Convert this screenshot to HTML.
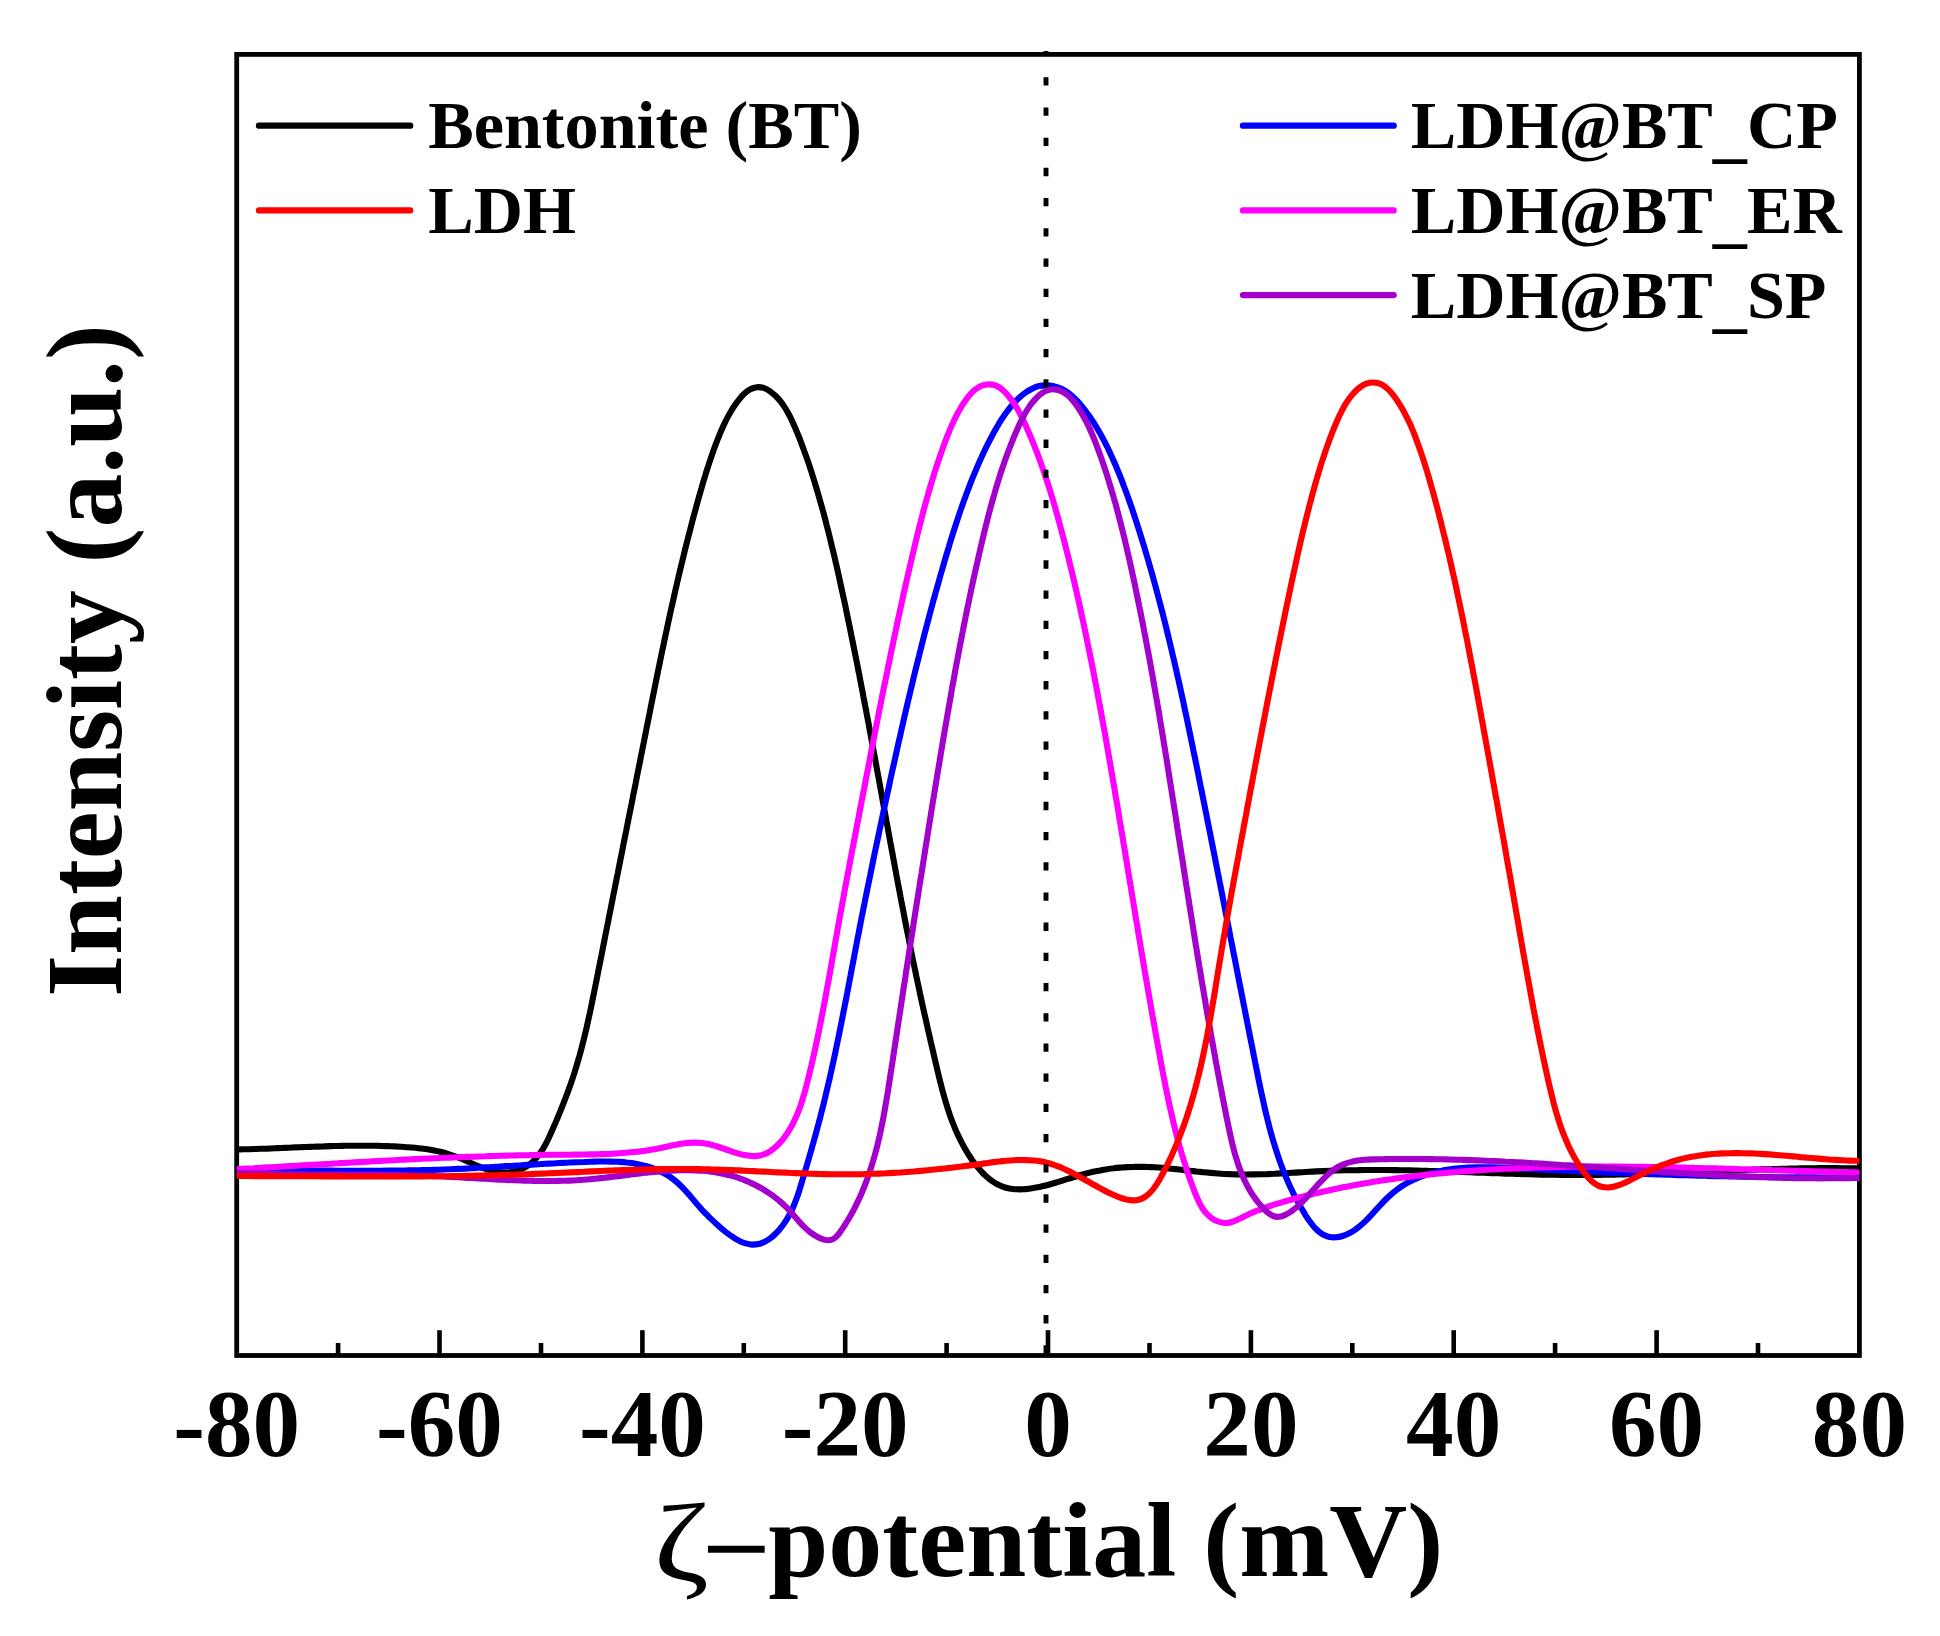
<!DOCTYPE html>
<html><head><meta charset="utf-8"><title>Zeta potential</title>
<style>
html,body{margin:0;padding:0;background:#fff;}
body{width:1940px;height:1636px;overflow:hidden;}
svg{display:block;font-family:"Liberation Serif","Times New Roman",serif;font-weight:bold;fill:#000;}
.tick{font-size:95.2px;text-anchor:middle;}
.leg text{font-size:68.2px;}
.leg line{stroke-width:6.3;stroke-linecap:round;}
.axt{font-size:107.2px;}
.curves path{fill:none;stroke-width:6.1;stroke-linejoin:round;stroke-linecap:butt;}
.ticks line{stroke:#000;stroke-width:4.6;}
</style></head><body>
<svg width="1940" height="1636" viewBox="0 0 1940 1636">
<rect x="0" y="0" width="1940" height="1636" fill="#fff"/>
<defs><clipPath id="pc"><rect x="236.7" y="54.4" width="1622.7" height="1301.1"/></clipPath><clipPath id="dc"><rect x="1040" y="51" width="12" height="1304.5"/></clipPath></defs>
<rect x="236.7" y="54.4" width="1622.7" height="1301.1" fill="none" stroke="#000" stroke-width="4.8"/>
<g class="ticks">
<line x1="338.1" y1="1355.5" x2="338.1" y2="1343.0"/>
<line x1="439.5" y1="1355.5" x2="439.5" y2="1330.2"/>
<line x1="541.0" y1="1355.5" x2="541.0" y2="1343.0"/>
<line x1="642.4" y1="1355.5" x2="642.4" y2="1330.2"/>
<line x1="743.8" y1="1355.5" x2="743.8" y2="1343.0"/>
<line x1="845.2" y1="1355.5" x2="845.2" y2="1330.2"/>
<line x1="946.6" y1="1355.5" x2="946.6" y2="1343.0"/>
<line x1="1048.0" y1="1355.5" x2="1048.0" y2="1330.2"/>
<line x1="1149.5" y1="1355.5" x2="1149.5" y2="1343.0"/>
<line x1="1250.9" y1="1355.5" x2="1250.9" y2="1330.2"/>
<line x1="1352.3" y1="1355.5" x2="1352.3" y2="1343.0"/>
<line x1="1453.7" y1="1355.5" x2="1453.7" y2="1330.2"/>
<line x1="1555.1" y1="1355.5" x2="1555.1" y2="1343.0"/>
<line x1="1656.6" y1="1355.5" x2="1656.6" y2="1330.2"/>
<line x1="1758.0" y1="1355.5" x2="1758.0" y2="1343.0"/>
</g>
<g class="curves" clip-path="url(#pc)">
<path d="M232.7 1149.5C235.0 1149.5 237.3 1149.4 239.7 1149.4C242.0 1149.3 244.3 1149.3 246.6 1149.2C248.9 1149.2 251.3 1149.1 253.6 1149.0C255.9 1149.0 258.2 1148.9 260.6 1148.8C262.9 1148.7 265.2 1148.6 267.6 1148.6C269.9 1148.5 272.3 1148.4 274.6 1148.3C276.9 1148.2 279.3 1148.1 281.6 1148.0C284.0 1147.9 286.3 1147.8 288.7 1147.7C291.0 1147.6 293.4 1147.5 295.7 1147.4C298.1 1147.3 300.4 1147.2 302.8 1147.1C305.1 1147.0 307.5 1147.0 309.8 1146.9C312.2 1146.8 314.5 1146.7 316.9 1146.6C319.2 1146.5 321.6 1146.4 323.9 1146.4C326.3 1146.3 328.7 1146.2 331.0 1146.1C333.4 1146.1 335.7 1146.0 338.1 1146.0C340.4 1145.9 342.8 1145.9 345.1 1145.8C347.5 1145.8 349.8 1145.7 352.2 1145.7C354.5 1145.7 356.9 1145.7 359.2 1145.7C361.6 1145.7 363.9 1145.7 366.2 1145.7C368.6 1145.7 370.9 1145.7 373.3 1145.7C375.6 1145.8 377.9 1145.8 380.3 1145.9C382.6 1145.9 384.9 1146.0 387.3 1146.1C389.6 1146.2 391.9 1146.3 394.2 1146.4C396.6 1146.5 398.9 1146.6 401.2 1146.7C403.5 1146.9 405.8 1147.0 408.1 1147.2C410.4 1147.4 412.8 1147.6 415.1 1147.8C417.4 1148.0 419.7 1148.3 421.9 1148.5C424.2 1148.8 426.5 1149.2 428.8 1149.5C431.1 1149.9 433.4 1150.3 435.6 1150.8C437.9 1151.2 440.2 1151.8 442.5 1152.3C444.7 1152.9 447.0 1153.6 449.2 1154.3C451.5 1155.0 453.7 1155.8 455.9 1156.6C458.2 1157.5 460.4 1158.4 462.6 1159.3C464.9 1160.3 467.1 1161.3 469.3 1162.3C471.5 1163.2 473.8 1164.2 476.0 1165.2C478.2 1166.1 480.4 1167.0 482.6 1167.9C484.8 1168.7 487.1 1169.5 489.3 1170.1C491.5 1170.8 493.7 1171.4 496.0 1171.8C498.2 1172.2 500.5 1172.5 502.7 1172.6C505.0 1172.7 507.2 1172.6 509.5 1172.4C511.7 1172.1 514.0 1171.6 516.2 1171.0C518.4 1170.3 520.6 1169.5 522.7 1168.5C524.8 1167.5 526.8 1166.3 528.7 1165.0C530.6 1163.7 532.3 1162.2 533.9 1160.6C535.5 1159.0 537.1 1157.3 538.5 1155.5C539.9 1153.6 541.2 1151.7 542.5 1149.7C543.7 1147.7 544.9 1145.6 546.0 1143.5C547.1 1141.4 548.2 1139.2 549.2 1137.0C550.3 1134.8 551.2 1132.6 552.2 1130.3C553.2 1128.1 554.1 1125.9 555.1 1123.7C556.0 1121.5 557.0 1119.3 557.9 1117.1C558.8 1114.9 559.7 1112.7 560.6 1110.5C561.5 1108.3 562.4 1106.2 563.2 1104.0C564.1 1101.8 564.9 1099.6 565.8 1097.4C566.6 1095.3 567.4 1093.1 568.2 1090.9C569.0 1088.7 569.8 1086.5 570.6 1084.4C571.3 1082.2 572.1 1080.0 572.8 1077.8C573.5 1075.6 574.3 1073.4 574.9 1071.2C575.6 1069.0 576.3 1066.8 577.0 1064.5C577.6 1062.3 578.3 1060.1 578.9 1057.9C579.6 1055.6 580.2 1053.4 580.8 1051.1C581.4 1048.9 582.0 1046.7 582.5 1044.4C583.1 1042.2 583.7 1039.9 584.2 1037.6C584.8 1035.4 585.3 1033.1 585.9 1030.8C586.4 1028.6 586.9 1026.3 587.4 1024.0C587.9 1021.8 588.4 1019.5 588.9 1017.2C589.4 1014.9 589.9 1012.6 590.4 1010.3C590.9 1008.1 591.4 1005.8 591.8 1003.5C592.3 1001.2 592.8 998.9 593.2 996.6C593.7 994.3 594.2 992.0 594.6 989.7C595.1 987.4 595.5 985.1 596.0 982.8C596.5 980.5 596.9 978.2 597.4 975.9C597.8 973.6 598.3 971.4 598.7 969.1C599.2 966.8 599.6 964.5 600.1 962.2C600.5 959.9 601.0 957.6 601.5 955.3C601.9 953.0 602.4 950.7 602.8 948.4C603.3 946.1 603.7 943.8 604.2 941.5C604.6 939.2 605.1 936.9 605.5 934.6C606.0 932.3 606.5 930.0 606.9 927.7C607.4 925.4 607.8 923.1 608.3 920.8C608.7 918.5 609.2 916.2 609.6 914.0C610.1 911.7 610.6 909.4 611.0 907.1C611.5 904.8 611.9 902.5 612.4 900.2C612.8 897.9 613.3 895.6 613.7 893.3C614.2 891.0 614.7 888.7 615.1 886.4C615.6 884.1 616.0 881.8 616.5 879.5C616.9 877.2 617.4 874.9 617.9 872.6C618.3 870.3 618.8 868.0 619.2 865.8C619.7 863.5 620.1 861.2 620.6 858.9C621.1 856.6 621.5 854.3 622.0 852.0C622.4 849.7 622.9 847.4 623.3 845.1C623.8 842.8 624.2 840.5 624.7 838.2C625.2 835.9 625.6 833.6 626.1 831.3C626.5 829.0 627.0 826.7 627.4 824.4C627.9 822.1 628.4 819.9 628.8 817.6C629.3 815.3 629.7 813.0 630.2 810.7C630.6 808.4 631.1 806.1 631.6 803.8C632.0 801.5 632.5 799.2 632.9 796.9C633.4 794.6 633.8 792.3 634.3 790.0C634.8 787.7 635.2 785.4 635.7 783.1C636.1 780.8 636.6 778.5 637.0 776.2C637.5 774.0 637.9 771.7 638.4 769.4C638.9 767.1 639.3 764.8 639.8 762.5C640.2 760.2 640.7 757.9 641.1 755.6C641.6 753.3 642.1 751.0 642.5 748.7C643.0 746.4 643.4 744.1 643.9 741.8C644.3 739.5 644.8 737.2 645.3 734.9C645.7 732.6 646.2 730.3 646.6 728.0C647.1 725.7 647.5 723.5 648.0 721.2C648.4 718.9 648.9 716.6 649.4 714.3C649.8 712.0 650.3 709.7 650.7 707.4C651.2 705.1 651.7 702.8 652.1 700.5C652.6 698.2 653.0 695.9 653.5 693.6C654.0 691.3 654.4 689.0 654.9 686.7C655.3 684.4 655.8 682.1 656.3 679.9C656.7 677.6 657.2 675.3 657.7 673.0C658.1 670.7 658.6 668.4 659.1 666.1C659.6 663.8 660.0 661.5 660.5 659.2C661.0 656.9 661.4 654.6 661.9 652.3C662.4 650.1 662.9 647.8 663.4 645.5C663.8 643.2 664.3 640.9 664.8 638.6C665.3 636.3 665.8 634.0 666.3 631.7C666.8 629.4 667.3 627.2 667.7 624.9C668.2 622.6 668.7 620.3 669.2 618.0C669.7 615.7 670.2 613.4 670.7 611.2C671.2 608.9 671.7 606.6 672.3 604.3C672.8 602.0 673.3 599.7 673.8 597.5C674.3 595.2 674.8 592.9 675.3 590.6C675.9 588.3 676.4 586.0 676.9 583.8C677.4 581.5 678.0 579.2 678.5 576.9C679.0 574.6 679.6 572.4 680.1 570.1C680.7 567.8 681.2 565.5 681.8 563.3C682.3 561.0 682.8 558.7 683.4 556.4C684.0 554.2 684.5 551.9 685.1 549.6C685.6 547.4 686.2 545.1 686.8 542.8C687.4 540.5 687.9 538.3 688.5 536.0C689.1 533.7 689.7 531.5 690.3 529.2C690.9 526.9 691.4 524.7 692.0 522.4C692.6 520.2 693.2 517.9 693.8 515.6C694.5 513.4 695.1 511.1 695.7 508.9C696.3 506.6 696.9 504.3 697.5 502.1C698.2 499.8 698.8 497.6 699.4 495.3C700.1 493.1 700.7 490.8 701.4 488.6C702.0 486.3 702.7 484.1 703.3 481.8C704.0 479.6 704.7 477.3 705.4 475.1C706.0 472.8 706.7 470.6 707.5 468.4C708.2 466.2 708.9 463.9 709.6 461.7C710.4 459.5 711.1 457.3 711.9 455.1C712.6 452.9 713.4 450.7 714.2 448.5C715.0 446.3 715.8 444.1 716.7 441.9C717.5 439.7 718.4 437.6 719.3 435.4C720.1 433.2 721.1 431.1 722.0 429.0C722.9 426.8 723.9 424.7 724.9 422.6C725.9 420.5 727.0 418.4 728.1 416.4C729.2 414.3 730.4 412.3 731.6 410.3C732.8 408.3 734.1 406.3 735.5 404.3C736.8 402.4 738.3 400.5 739.8 398.6C741.3 396.8 742.9 395.0 744.7 393.3C746.4 391.7 748.3 390.3 750.3 389.3C752.4 388.2 754.6 387.5 756.9 387.2C759.1 386.9 761.3 387.2 763.5 387.9C765.6 388.6 767.7 389.7 769.6 391.0C771.6 392.3 773.4 393.9 775.2 395.5C776.9 397.2 778.5 398.9 780.0 400.7C781.4 402.5 782.8 404.4 784.1 406.4C785.4 408.3 786.6 410.3 787.7 412.4C788.9 414.4 790.0 416.5 791.0 418.6C792.0 420.7 793.0 422.9 793.9 425.0C794.9 427.2 795.8 429.3 796.7 431.5C797.6 433.7 798.5 435.8 799.4 438.0C800.2 440.2 801.1 442.4 801.9 444.6C802.7 446.8 803.6 449.0 804.3 451.2C805.1 453.4 805.9 455.6 806.7 457.8C807.5 460.0 808.2 462.2 809.0 464.4C809.7 466.6 810.4 468.9 811.2 471.1C811.9 473.3 812.6 475.5 813.3 477.8C814.0 480.0 814.6 482.2 815.3 484.5C816.0 486.7 816.7 488.9 817.3 491.2C818.0 493.4 818.6 495.7 819.3 497.9C819.9 500.2 820.6 502.4 821.2 504.7C821.8 506.9 822.4 509.2 823.1 511.4C823.7 513.7 824.3 515.9 824.9 518.2C825.5 520.5 826.1 522.7 826.6 525.0C827.2 527.3 827.8 529.5 828.4 531.8C829.0 534.1 829.5 536.3 830.1 538.6C830.6 540.9 831.2 543.1 831.7 545.4C832.3 547.7 832.8 550.0 833.4 552.2C833.9 554.5 834.5 556.8 835.0 559.1C835.5 561.4 836.0 563.6 836.6 565.9C837.1 568.2 837.6 570.5 838.1 572.8C838.6 575.1 839.1 577.3 839.6 579.6C840.1 581.9 840.6 584.2 841.1 586.5C841.6 588.8 842.1 591.1 842.6 593.4C843.1 595.6 843.6 597.9 844.1 600.2C844.6 602.5 845.1 604.8 845.6 607.1C846.0 609.4 846.5 611.7 847.0 614.0C847.5 616.3 847.9 618.6 848.4 620.9C848.9 623.1 849.4 625.4 849.8 627.7C850.3 630.0 850.8 632.3 851.2 634.6C851.7 636.9 852.2 639.2 852.6 641.5C853.1 643.8 853.6 646.1 854.0 648.4C854.5 650.7 854.9 653.0 855.4 655.3C855.8 657.6 856.3 659.9 856.8 662.1C857.2 664.4 857.7 666.7 858.1 669.0C858.6 671.3 859.0 673.6 859.5 675.9C859.9 678.2 860.3 680.5 860.8 682.8C861.2 685.1 861.7 687.4 862.1 689.7C862.6 692.0 863.0 694.3 863.4 696.6C863.9 698.9 864.3 701.2 864.7 703.5C865.2 705.8 865.6 708.1 866.1 710.4C866.5 712.7 866.9 715.0 867.4 717.3C867.8 719.6 868.2 721.9 868.7 724.2C869.1 726.5 869.5 728.8 869.9 731.1C870.4 733.4 870.8 735.7 871.2 738.0C871.7 740.3 872.1 742.6 872.5 744.9C872.9 747.2 873.4 749.5 873.8 751.8C874.2 754.1 874.6 756.4 875.1 758.7C875.5 761.0 875.9 763.3 876.3 765.6C876.7 767.9 877.2 770.2 877.6 772.5C878.0 774.8 878.4 777.1 878.9 779.4C879.3 781.7 879.7 784.0 880.1 786.3C880.5 788.6 881.0 790.9 881.4 793.2C881.8 795.5 882.2 797.8 882.6 800.1C883.1 802.4 883.5 804.7 883.9 807.0C884.3 809.3 884.7 811.6 885.2 813.9C885.6 816.2 886.0 818.5 886.4 820.8C886.9 823.2 887.3 825.5 887.7 827.8C888.1 830.1 888.5 832.4 889.0 834.7C889.4 837.0 889.8 839.3 890.2 841.6C890.7 843.9 891.1 846.2 891.5 848.5C891.9 850.8 892.4 853.1 892.8 855.4C893.2 857.7 893.6 860.0 894.1 862.3C894.5 864.6 894.9 866.9 895.3 869.2C895.8 871.5 896.2 873.8 896.6 876.1C897.1 878.4 897.5 880.7 897.9 883.0C898.3 885.3 898.8 887.6 899.2 889.9C899.7 892.2 900.1 894.5 900.5 896.8C901.0 899.1 901.4 901.4 901.8 903.7C902.3 906.0 902.7 908.3 903.2 910.6C903.6 912.9 904.0 915.2 904.5 917.5C904.9 919.8 905.4 922.1 905.8 924.4C906.3 926.7 906.7 929.0 907.2 931.3C907.6 933.6 908.1 935.8 908.6 938.1C909.0 940.4 909.5 942.7 909.9 945.0C910.4 947.3 910.9 949.6 911.3 951.9C911.8 954.2 912.3 956.5 912.7 958.8C913.2 961.1 913.7 963.4 914.1 965.7C914.6 968.0 915.1 970.2 915.6 972.5C916.0 974.8 916.5 977.1 917.0 979.4C917.5 981.7 918.0 984.0 918.5 986.3C919.0 988.6 919.5 990.8 919.9 993.1C920.4 995.4 920.9 997.7 921.4 1000.0C921.9 1002.3 922.4 1004.6 922.9 1006.8C923.4 1009.1 923.9 1011.4 924.4 1013.7C924.9 1016.0 925.5 1018.3 926.0 1020.5C926.5 1022.8 927.0 1025.1 927.5 1027.4C928.0 1029.7 928.5 1031.9 929.1 1034.2C929.6 1036.5 930.1 1038.8 930.6 1041.1C931.1 1043.3 931.7 1045.6 932.2 1047.9C932.7 1050.2 933.3 1052.5 933.8 1054.7C934.3 1057.0 934.8 1059.3 935.4 1061.6C935.9 1063.8 936.5 1066.1 937.0 1068.4C937.5 1070.7 938.1 1072.9 938.6 1075.2C939.2 1077.5 939.7 1079.8 940.3 1082.0C940.9 1084.3 941.4 1086.6 942.0 1088.8C942.6 1091.1 943.2 1093.3 943.9 1095.6C944.5 1097.8 945.1 1100.1 945.8 1102.3C946.5 1104.6 947.2 1106.8 947.9 1109.0C948.6 1111.2 949.4 1113.5 950.1 1115.7C950.9 1117.9 951.7 1120.1 952.6 1122.3C953.4 1124.5 954.3 1126.6 955.2 1128.8C956.1 1131.0 957.1 1133.1 958.1 1135.3C959.1 1137.4 960.1 1139.6 961.2 1141.7C962.3 1143.8 963.4 1145.9 964.6 1148.0C965.8 1150.1 967.1 1152.2 968.4 1154.3C969.7 1156.3 971.0 1158.4 972.4 1160.4C973.8 1162.4 975.3 1164.3 976.8 1166.2C978.3 1168.1 979.8 1169.9 981.5 1171.6C983.1 1173.4 984.7 1175.0 986.4 1176.5C988.2 1178.1 989.9 1179.5 991.7 1180.8C993.5 1182.1 995.4 1183.2 997.3 1184.3C999.2 1185.3 1001.2 1186.1 1003.2 1186.8C1005.2 1187.5 1007.2 1188.0 1009.3 1188.4C1011.4 1188.8 1013.6 1189.1 1015.7 1189.2C1017.9 1189.3 1020.1 1189.4 1022.3 1189.3C1024.5 1189.2 1026.8 1189.0 1029.1 1188.7C1031.4 1188.4 1033.7 1188.0 1036.0 1187.6C1038.4 1187.2 1040.7 1186.6 1043.1 1186.1C1045.4 1185.5 1047.8 1184.9 1050.2 1184.2C1052.6 1183.5 1055.0 1182.9 1057.4 1182.1C1059.8 1181.4 1062.2 1180.7 1064.6 1179.9C1067.0 1179.2 1069.4 1178.4 1071.9 1177.7C1074.3 1176.9 1076.7 1176.2 1079.0 1175.5C1081.4 1174.8 1083.8 1174.2 1086.2 1173.5C1088.5 1172.9 1090.9 1172.4 1093.2 1171.8C1095.5 1171.3 1097.8 1170.8 1100.1 1170.4C1102.4 1169.9 1104.7 1169.5 1107.0 1169.2C1109.3 1168.8 1111.6 1168.5 1113.8 1168.3C1116.1 1168.0 1118.4 1167.8 1120.6 1167.6C1122.9 1167.4 1125.1 1167.2 1127.4 1167.1C1129.7 1167.0 1131.9 1166.9 1134.2 1166.9C1136.4 1166.8 1138.7 1166.8 1141.0 1166.8C1143.2 1166.9 1145.5 1166.9 1147.8 1167.0C1150.1 1167.1 1152.4 1167.2 1154.7 1167.3C1157.0 1167.5 1159.3 1167.7 1161.6 1167.8C1163.9 1168.0 1166.2 1168.2 1168.6 1168.4C1170.9 1168.7 1173.2 1168.9 1175.6 1169.1C1177.9 1169.4 1180.3 1169.6 1182.6 1169.9C1184.9 1170.2 1187.3 1170.4 1189.7 1170.7C1192.0 1171.0 1194.4 1171.2 1196.7 1171.5C1199.1 1171.7 1201.4 1172.0 1203.8 1172.2C1206.2 1172.5 1208.5 1172.7 1210.9 1172.9C1213.2 1173.1 1215.6 1173.3 1218.0 1173.5C1220.3 1173.7 1222.7 1173.8 1225.0 1174.0C1227.4 1174.1 1229.7 1174.2 1232.1 1174.3C1234.4 1174.4 1236.8 1174.4 1239.1 1174.5C1241.5 1174.5 1243.8 1174.5 1246.2 1174.5C1248.5 1174.5 1250.8 1174.5 1253.2 1174.4C1255.5 1174.4 1257.9 1174.4 1260.2 1174.3C1262.5 1174.2 1264.9 1174.1 1267.2 1174.1C1269.6 1174.0 1271.9 1173.9 1274.2 1173.8C1276.6 1173.6 1278.9 1173.5 1281.2 1173.4C1283.5 1173.3 1285.9 1173.2 1288.2 1173.0C1290.5 1172.9 1292.9 1172.7 1295.2 1172.6C1297.5 1172.5 1299.9 1172.3 1302.2 1172.2C1304.5 1172.1 1306.8 1171.9 1309.2 1171.8C1311.5 1171.7 1313.8 1171.5 1316.2 1171.4C1318.5 1171.3 1320.8 1171.2 1323.2 1171.1C1325.5 1171.0 1327.8 1170.9 1330.1 1170.8C1332.5 1170.7 1334.8 1170.6 1337.1 1170.5C1339.5 1170.4 1341.8 1170.4 1344.1 1170.3C1346.5 1170.3 1348.8 1170.2 1351.1 1170.2C1353.5 1170.1 1355.8 1170.1 1358.1 1170.1C1360.5 1170.0 1362.8 1170.0 1365.1 1170.0C1367.5 1170.0 1369.8 1170.0 1372.1 1170.0C1374.5 1170.0 1376.8 1170.0 1379.2 1170.0C1381.5 1170.0 1383.8 1170.0 1386.2 1170.0C1388.5 1170.1 1390.8 1170.1 1393.2 1170.1C1395.5 1170.1 1397.8 1170.2 1400.2 1170.2C1402.5 1170.3 1404.9 1170.3 1407.2 1170.3C1409.5 1170.4 1411.9 1170.4 1414.2 1170.5C1416.5 1170.6 1418.9 1170.6 1421.2 1170.7C1423.6 1170.7 1425.9 1170.8 1428.2 1170.9C1430.6 1170.9 1432.9 1171.0 1435.3 1171.1C1437.6 1171.2 1439.9 1171.2 1442.3 1171.3C1444.6 1171.4 1447.0 1171.5 1449.3 1171.5C1451.6 1171.6 1454.0 1171.7 1456.3 1171.8C1458.7 1171.9 1461.0 1172.0 1463.3 1172.0C1465.7 1172.1 1468.0 1172.2 1470.4 1172.3C1472.7 1172.4 1475.0 1172.5 1477.4 1172.6C1479.7 1172.6 1482.1 1172.7 1484.4 1172.8C1486.8 1172.9 1489.1 1173.0 1491.4 1173.1C1493.8 1173.2 1496.1 1173.2 1498.5 1173.3C1500.8 1173.4 1503.1 1173.5 1505.5 1173.6C1507.8 1173.6 1510.2 1173.7 1512.5 1173.8C1514.8 1173.9 1517.2 1173.9 1519.5 1174.0C1521.9 1174.1 1524.2 1174.1 1526.6 1174.2C1528.9 1174.3 1531.2 1174.3 1533.6 1174.4C1535.9 1174.5 1538.3 1174.5 1540.6 1174.6C1542.9 1174.6 1545.3 1174.7 1547.6 1174.7C1550.0 1174.7 1552.3 1174.8 1554.6 1174.8C1557.0 1174.9 1559.3 1174.9 1561.7 1174.9C1564.0 1174.9 1566.3 1175.0 1568.7 1175.0C1571.0 1175.0 1573.4 1175.0 1575.7 1175.0C1578.0 1175.0 1580.4 1175.0 1582.7 1175.0C1585.1 1175.0 1587.4 1175.0 1589.7 1175.0C1592.1 1174.9 1594.4 1174.9 1596.8 1174.9C1599.1 1174.9 1601.4 1174.8 1603.8 1174.8C1606.1 1174.8 1608.5 1174.7 1610.8 1174.7C1613.1 1174.6 1615.5 1174.6 1617.8 1174.5C1620.1 1174.5 1622.5 1174.4 1624.8 1174.4C1627.2 1174.3 1629.5 1174.3 1631.8 1174.2C1634.2 1174.1 1636.5 1174.1 1638.9 1174.0C1641.2 1173.9 1643.5 1173.9 1645.9 1173.8C1648.2 1173.7 1650.5 1173.6 1652.9 1173.5C1655.2 1173.5 1657.6 1173.4 1659.9 1173.3C1662.2 1173.2 1664.6 1173.1 1666.9 1173.1C1669.2 1173.0 1671.6 1172.9 1673.9 1172.8C1676.3 1172.7 1678.6 1172.6 1680.9 1172.5C1683.3 1172.4 1685.6 1172.3 1687.9 1172.2C1690.3 1172.1 1692.6 1172.0 1695.0 1172.0C1697.3 1171.9 1699.6 1171.8 1702.0 1171.7C1704.3 1171.6 1706.7 1171.5 1709.0 1171.4C1711.3 1171.3 1713.7 1171.2 1716.0 1171.1C1718.3 1171.0 1720.7 1170.9 1723.0 1170.8C1725.4 1170.7 1727.7 1170.6 1730.0 1170.5C1732.4 1170.5 1734.7 1170.4 1737.0 1170.3C1739.4 1170.2 1741.7 1170.1 1744.1 1170.0C1746.4 1169.9 1748.7 1169.8 1751.1 1169.8C1753.4 1169.7 1755.8 1169.6 1758.1 1169.5C1760.4 1169.4 1762.8 1169.4 1765.1 1169.3C1767.4 1169.2 1769.8 1169.1 1772.1 1169.1C1774.5 1169.0 1776.8 1168.9 1779.1 1168.9C1781.5 1168.8 1783.8 1168.8 1786.2 1168.7C1788.5 1168.6 1790.8 1168.6 1793.2 1168.5C1795.5 1168.5 1797.9 1168.4 1800.2 1168.4C1802.5 1168.4 1804.9 1168.3 1807.2 1168.3C1809.6 1168.3 1811.9 1168.2 1814.2 1168.2C1816.6 1168.2 1818.9 1168.2 1821.3 1168.1C1823.6 1168.1 1825.9 1168.1 1828.3 1168.1C1830.6 1168.1 1833.0 1168.1 1835.3 1168.1C1837.6 1168.1 1840.0 1168.1 1842.3 1168.2C1844.7 1168.2 1847.0 1168.2 1849.4 1168.2C1851.7 1168.2 1854.0 1168.3 1856.4 1168.3C1858.7 1168.4 1861.1 1168.4 1863.4 1168.5" stroke="#000000"/>
<path d="M232.7 1171.7C235.1 1171.6 237.4 1171.5 239.7 1171.5C242.0 1171.4 244.4 1171.3 246.7 1171.3C249.0 1171.2 251.4 1171.2 253.7 1171.1C256.0 1171.1 258.4 1171.0 260.7 1171.0C263.0 1170.9 265.4 1170.9 267.7 1170.9C270.1 1170.8 272.4 1170.8 274.7 1170.8C277.1 1170.7 279.4 1170.7 281.8 1170.7C284.1 1170.7 286.5 1170.7 288.8 1170.7C291.2 1170.7 293.5 1170.6 295.8 1170.6C298.2 1170.6 300.5 1170.6 302.9 1170.6C305.2 1170.6 307.6 1170.6 309.9 1170.6C312.3 1170.6 314.6 1170.6 317.0 1170.6C319.3 1170.6 321.7 1170.6 324.0 1170.6C326.4 1170.6 328.7 1170.6 331.1 1170.6C333.5 1170.7 335.8 1170.7 338.2 1170.7C340.5 1170.7 342.9 1170.7 345.2 1170.7C347.6 1170.7 349.9 1170.7 352.3 1170.7C354.6 1170.7 357.0 1170.7 359.3 1170.7C361.7 1170.7 364.0 1170.7 366.4 1170.7C368.7 1170.7 371.1 1170.7 373.4 1170.7C375.8 1170.7 378.1 1170.7 380.5 1170.7C382.9 1170.7 385.2 1170.7 387.6 1170.6C389.9 1170.6 392.2 1170.6 394.6 1170.6C396.9 1170.6 399.3 1170.5 401.6 1170.5C404.0 1170.5 406.3 1170.4 408.7 1170.4C411.0 1170.4 413.4 1170.3 415.7 1170.3C418.0 1170.2 420.4 1170.2 422.7 1170.1C425.1 1170.1 427.4 1170.0 429.7 1170.0C432.1 1169.9 434.4 1169.8 436.8 1169.7C439.1 1169.7 441.4 1169.6 443.8 1169.5C446.1 1169.4 448.4 1169.3 450.8 1169.2C453.1 1169.1 455.4 1169.0 457.7 1168.9C460.1 1168.8 462.4 1168.7 464.7 1168.6C467.1 1168.4 469.4 1168.3 471.7 1168.2C474.0 1168.1 476.4 1167.9 478.7 1167.8C481.0 1167.7 483.3 1167.6 485.7 1167.4C488.0 1167.3 490.3 1167.1 492.6 1167.0C495.0 1166.9 497.3 1166.7 499.6 1166.6C501.9 1166.4 504.3 1166.3 506.6 1166.1C508.9 1166.0 511.3 1165.9 513.6 1165.7C515.9 1165.6 518.3 1165.4 520.6 1165.3C522.9 1165.1 525.3 1165.0 527.6 1164.8C529.9 1164.7 532.3 1164.6 534.6 1164.4C536.9 1164.3 539.3 1164.1 541.6 1164.0C544.0 1163.9 546.3 1163.7 548.7 1163.6C551.0 1163.5 553.4 1163.4 555.7 1163.2C558.1 1163.1 560.4 1163.0 562.8 1162.9C565.1 1162.8 567.5 1162.6 569.9 1162.5C572.2 1162.4 574.6 1162.3 577.0 1162.2C579.3 1162.1 581.7 1162.0 584.1 1162.0C586.5 1161.9 588.9 1161.8 591.2 1161.7C593.6 1161.6 596.0 1161.6 598.4 1161.5C600.8 1161.5 603.1 1161.5 605.5 1161.5C607.9 1161.5 610.3 1161.5 612.6 1161.6C615.0 1161.6 617.3 1161.8 619.7 1161.9C622.0 1162.0 624.3 1162.2 626.6 1162.5C628.9 1162.7 631.2 1163.0 633.5 1163.3C635.7 1163.7 638.0 1164.1 640.2 1164.6C642.4 1165.1 644.6 1165.6 646.8 1166.2C649.0 1166.8 651.1 1167.5 653.2 1168.3C655.3 1169.1 657.4 1169.9 659.5 1170.9C661.5 1171.8 663.5 1172.9 665.5 1174.0C667.4 1175.1 669.4 1176.4 671.3 1177.7C673.2 1179.1 675.0 1180.5 676.8 1182.1C678.6 1183.7 680.3 1185.3 682.1 1187.1C683.8 1188.8 685.5 1190.7 687.1 1192.5C688.7 1194.3 690.4 1196.2 691.9 1198.1C693.5 1200.0 695.1 1201.8 696.6 1203.6C698.2 1205.5 699.7 1207.2 701.2 1208.9C702.7 1210.6 704.2 1212.2 705.8 1213.7C707.3 1215.3 708.9 1216.8 710.5 1218.4C712.1 1219.9 713.8 1221.5 715.5 1223.1C717.3 1224.8 719.1 1226.4 721.0 1228.1C723.0 1229.7 724.9 1231.3 726.9 1232.9C728.9 1234.4 731.0 1235.9 733.1 1237.2C735.2 1238.6 737.3 1239.8 739.4 1240.9C741.5 1241.9 743.6 1242.8 745.7 1243.4C747.9 1244.0 750.0 1244.4 752.1 1244.6C754.2 1244.7 756.2 1244.5 758.3 1244.1C760.3 1243.6 762.3 1242.9 764.2 1242.0C766.2 1241.1 768.1 1239.9 769.9 1238.6C771.8 1237.2 773.6 1235.7 775.3 1234.0C777.0 1232.4 778.7 1230.6 780.2 1228.6C781.8 1226.7 783.3 1224.7 784.7 1222.6C786.1 1220.6 787.4 1218.4 788.6 1216.2C789.9 1214.1 791.0 1211.9 792.0 1209.7C793.0 1207.5 794.0 1205.3 794.8 1203.1C795.7 1200.9 796.5 1198.7 797.3 1196.5C798.0 1194.3 798.8 1192.1 799.5 1189.8C800.1 1187.6 800.8 1185.4 801.5 1183.2C802.2 1180.9 802.8 1178.7 803.5 1176.5C804.2 1174.2 804.8 1172.0 805.5 1169.8C806.2 1167.5 806.8 1165.3 807.5 1163.1C808.1 1160.8 808.8 1158.6 809.4 1156.4C810.1 1154.1 810.7 1151.9 811.4 1149.6C812.0 1147.4 812.6 1145.2 813.3 1142.9C813.9 1140.7 814.5 1138.4 815.2 1136.2C815.8 1133.9 816.4 1131.7 817.0 1129.4C817.6 1127.2 818.2 1124.9 818.8 1122.7C819.4 1120.4 820.0 1118.1 820.6 1115.9C821.1 1113.6 821.7 1111.4 822.3 1109.1C822.9 1106.8 823.4 1104.6 824.0 1102.3C824.5 1100.0 825.1 1097.8 825.6 1095.5C826.2 1093.2 826.7 1091.0 827.2 1088.7C827.8 1086.4 828.3 1084.1 828.8 1081.9C829.4 1079.6 829.9 1077.3 830.4 1075.0C830.9 1072.8 831.4 1070.5 831.9 1068.2C832.4 1065.9 832.9 1063.6 833.4 1061.3C833.9 1059.1 834.4 1056.8 834.9 1054.5C835.4 1052.2 835.8 1049.9 836.3 1047.6C836.8 1045.3 837.3 1043.1 837.7 1040.8C838.2 1038.5 838.7 1036.2 839.2 1033.9C839.6 1031.6 840.1 1029.3 840.5 1027.0C841.0 1024.7 841.5 1022.4 841.9 1020.1C842.4 1017.8 842.8 1015.5 843.3 1013.2C843.7 1011.0 844.2 1008.7 844.6 1006.4C845.1 1004.1 845.5 1001.8 846.0 999.5C846.4 997.2 846.8 994.9 847.3 992.6C847.7 990.3 848.2 988.0 848.6 985.7C849.0 983.4 849.5 981.1 849.9 978.8C850.4 976.5 850.8 974.2 851.2 971.9C851.7 969.6 852.1 967.3 852.5 965.0C853.0 962.7 853.4 960.4 853.9 958.1C854.3 955.8 854.7 953.4 855.2 951.1C855.6 948.8 856.1 946.5 856.5 944.2C856.9 941.9 857.4 939.6 857.8 937.3C858.3 935.0 858.7 932.7 859.2 930.4C859.6 928.1 860.0 925.8 860.5 923.5C860.9 921.2 861.4 918.9 861.8 916.6C862.3 914.3 862.8 912.0 863.2 909.7C863.7 907.4 864.1 905.1 864.6 902.8C865.0 900.5 865.5 898.2 866.0 895.9C866.4 893.6 866.9 891.3 867.4 889.0C867.8 886.8 868.3 884.5 868.8 882.2C869.2 879.9 869.7 877.6 870.2 875.3C870.6 873.0 871.1 870.7 871.6 868.4C872.1 866.1 872.5 863.8 873.0 861.5C873.5 859.2 874.0 856.9 874.4 854.6C874.9 852.3 875.4 850.0 875.9 847.7C876.3 845.4 876.8 843.1 877.3 840.8C877.8 838.5 878.3 836.2 878.8 834.0C879.2 831.7 879.7 829.4 880.2 827.1C880.7 824.8 881.2 822.5 881.7 820.2C882.2 817.9 882.7 815.6 883.1 813.3C883.6 811.0 884.1 808.7 884.6 806.4C885.1 804.1 885.6 801.9 886.1 799.6C886.6 797.3 887.1 795.0 887.6 792.7C888.1 790.4 888.6 788.1 889.1 785.8C889.6 783.5 890.0 781.2 890.5 778.9C891.0 776.7 891.5 774.4 892.0 772.1C892.5 769.8 893.0 767.5 893.6 765.2C894.1 762.9 894.6 760.6 895.1 758.3C895.6 756.1 896.1 753.8 896.6 751.5C897.1 749.2 897.6 746.9 898.1 744.6C898.6 742.3 899.1 740.0 899.7 737.8C900.2 735.5 900.7 733.2 901.2 730.9C901.7 728.6 902.2 726.3 902.8 724.0C903.3 721.8 903.8 719.5 904.3 717.2C904.9 714.9 905.4 712.6 905.9 710.3C906.5 708.1 907.0 705.8 907.5 703.5C908.0 701.2 908.6 698.9 909.1 696.7C909.7 694.4 910.2 692.1 910.7 689.8C911.3 687.5 911.8 685.3 912.4 683.0C912.9 680.7 913.5 678.4 914.0 676.1C914.6 673.9 915.1 671.6 915.7 669.3C916.2 667.0 916.8 664.8 917.4 662.5C917.9 660.2 918.5 657.9 919.1 655.7C919.6 653.4 920.2 651.1 920.8 648.8C921.3 646.6 921.9 644.3 922.5 642.0C923.1 639.8 923.7 637.5 924.2 635.2C924.8 633.0 925.4 630.7 926.0 628.4C926.6 626.1 927.2 623.9 927.8 621.6C928.4 619.3 929.0 617.1 929.6 614.8C930.2 612.6 930.8 610.3 931.4 608.0C932.0 605.8 932.6 603.5 933.2 601.2C933.9 599.0 934.5 596.7 935.1 594.5C935.7 592.2 936.4 589.9 937.0 587.7C937.6 585.4 938.3 583.2 938.9 580.9C939.5 578.6 940.2 576.4 940.8 574.1C941.5 571.9 942.1 569.6 942.8 567.4C943.4 565.1 944.1 562.9 944.7 560.6C945.4 558.4 946.1 556.1 946.7 553.9C947.4 551.6 948.1 549.4 948.8 547.1C949.4 544.9 950.1 542.6 950.8 540.4C951.5 538.1 952.2 535.9 952.9 533.7C953.6 531.4 954.3 529.2 955.0 527.0C955.8 524.7 956.5 522.5 957.2 520.3C957.9 518.0 958.7 515.8 959.4 513.6C960.2 511.4 960.9 509.2 961.7 506.9C962.5 504.7 963.3 502.5 964.1 500.3C964.9 498.1 965.7 495.9 966.5 493.7C967.3 491.5 968.1 489.3 969.0 487.2C969.8 485.0 970.7 482.8 971.5 480.6C972.4 478.4 973.3 476.3 974.2 474.1C975.1 472.0 976.0 469.8 976.9 467.6C977.8 465.5 978.7 463.4 979.7 461.2C980.7 459.1 981.6 457.0 982.6 454.8C983.6 452.7 984.6 450.6 985.6 448.5C986.7 446.4 987.7 444.3 988.8 442.2C989.8 440.1 990.9 438.0 992.0 436.0C993.1 433.9 994.2 431.8 995.4 429.8C996.5 427.7 997.7 425.7 998.9 423.7C1000.1 421.7 1001.3 419.7 1002.6 417.8C1003.9 415.8 1005.3 413.9 1006.7 412.0C1008.1 410.1 1009.5 408.3 1011.0 406.5C1012.5 404.7 1014.1 402.9 1015.7 401.2C1017.4 399.5 1019.1 397.9 1020.9 396.3C1022.7 394.7 1024.6 393.3 1026.5 391.9C1028.5 390.6 1030.5 389.4 1032.6 388.4C1034.7 387.4 1036.8 386.6 1039.1 386.1C1041.3 385.6 1043.7 385.4 1046.0 385.4C1048.3 385.4 1050.7 385.6 1053.0 386.1C1055.3 386.6 1057.6 387.3 1059.8 388.1C1061.9 389.0 1064.0 390.1 1066.0 391.3C1067.9 392.6 1069.8 394.0 1071.6 395.5C1073.4 397.0 1075.0 398.6 1076.7 400.3C1078.3 402.1 1079.8 403.8 1081.3 405.7C1082.8 407.5 1084.3 409.4 1085.7 411.2C1087.1 413.1 1088.5 415.0 1089.9 417.0C1091.2 418.9 1092.5 420.8 1093.8 422.8C1095.0 424.8 1096.3 426.8 1097.4 428.8C1098.6 430.8 1099.8 432.8 1100.9 434.9C1102.1 436.9 1103.2 439.0 1104.3 441.1C1105.3 443.1 1106.4 445.2 1107.4 447.3C1108.4 449.4 1109.5 451.5 1110.4 453.7C1111.4 455.8 1112.4 457.9 1113.3 460.1C1114.3 462.2 1115.2 464.4 1116.1 466.5C1117.0 468.7 1117.9 470.8 1118.8 473.0C1119.7 475.2 1120.6 477.4 1121.4 479.5C1122.3 481.7 1123.1 483.9 1123.9 486.1C1124.8 488.3 1125.6 490.5 1126.4 492.7C1127.2 494.9 1128.0 497.1 1128.7 499.3C1129.5 501.5 1130.3 503.8 1131.1 506.0C1131.8 508.2 1132.6 510.4 1133.3 512.6C1134.1 514.9 1134.8 517.1 1135.5 519.3C1136.3 521.6 1137.0 523.8 1137.7 526.0C1138.4 528.2 1139.1 530.5 1139.8 532.7C1140.5 535.0 1141.2 537.2 1141.9 539.4C1142.6 541.7 1143.3 543.9 1144.0 546.2C1144.7 548.4 1145.3 550.6 1146.0 552.9C1146.7 555.1 1147.3 557.4 1148.0 559.6C1148.6 561.9 1149.3 564.1 1149.9 566.4C1150.6 568.6 1151.2 570.9 1151.9 573.1C1152.5 575.4 1153.1 577.7 1153.7 579.9C1154.4 582.2 1155.0 584.4 1155.6 586.7C1156.2 589.0 1156.8 591.2 1157.4 593.5C1158.0 595.7 1158.6 598.0 1159.2 600.3C1159.8 602.5 1160.4 604.8 1161.0 607.1C1161.6 609.3 1162.2 611.6 1162.8 613.9C1163.3 616.2 1163.9 618.4 1164.5 620.7C1165.0 623.0 1165.6 625.2 1166.2 627.5C1166.7 629.8 1167.3 632.1 1167.8 634.4C1168.4 636.6 1168.9 638.9 1169.5 641.2C1170.0 643.5 1170.6 645.7 1171.1 648.0C1171.7 650.3 1172.2 652.6 1172.7 654.9C1173.3 657.2 1173.8 659.4 1174.3 661.7C1174.8 664.0 1175.4 666.3 1175.9 668.6C1176.4 670.9 1176.9 673.1 1177.4 675.4C1177.9 677.7 1178.5 680.0 1179.0 682.3C1179.5 684.6 1180.0 686.9 1180.5 689.2C1181.0 691.5 1181.5 693.7 1182.0 696.0C1182.5 698.3 1183.0 700.6 1183.5 702.9C1184.0 705.2 1184.4 707.5 1184.9 709.8C1185.4 712.1 1185.9 714.4 1186.4 716.7C1186.9 719.0 1187.4 721.3 1187.8 723.5C1188.3 725.8 1188.8 728.1 1189.3 730.4C1189.8 732.7 1190.2 735.0 1190.7 737.3C1191.2 739.6 1191.7 741.9 1192.1 744.2C1192.6 746.5 1193.1 748.8 1193.5 751.1C1194.0 753.4 1194.5 755.7 1195.0 758.0C1195.4 760.3 1195.9 762.6 1196.4 764.9C1196.8 767.2 1197.3 769.5 1197.8 771.8C1198.2 774.1 1198.7 776.4 1199.1 778.7C1199.6 781.0 1200.1 783.3 1200.5 785.6C1201.0 787.9 1201.5 790.2 1201.9 792.5C1202.4 794.8 1202.8 797.1 1203.3 799.4C1203.8 801.7 1204.2 804.0 1204.7 806.2C1205.1 808.5 1205.6 810.8 1206.1 813.1C1206.5 815.4 1207.0 817.7 1207.4 820.0C1207.9 822.3 1208.3 824.6 1208.8 826.9C1209.3 829.2 1209.7 831.5 1210.2 833.8C1210.6 836.1 1211.1 838.4 1211.5 840.7C1212.0 843.0 1212.4 845.3 1212.9 847.6C1213.4 849.9 1213.8 852.2 1214.3 854.5C1214.7 856.8 1215.2 859.1 1215.6 861.4C1216.1 863.7 1216.5 866.0 1217.0 868.3C1217.4 870.6 1217.9 872.9 1218.3 875.2C1218.8 877.5 1219.3 879.8 1219.7 882.1C1220.2 884.4 1220.6 886.7 1221.1 889.0C1221.5 891.3 1222.0 893.6 1222.4 895.9C1222.9 898.2 1223.3 900.5 1223.8 902.8C1224.2 905.1 1224.7 907.4 1225.1 909.7C1225.6 912.0 1226.0 914.3 1226.5 916.6C1226.9 918.9 1227.4 921.2 1227.8 923.5C1228.3 925.8 1228.7 928.1 1229.2 930.4C1229.6 932.7 1230.1 935.0 1230.5 937.3C1231.0 939.6 1231.4 941.9 1231.9 944.2C1232.3 946.5 1232.8 948.8 1233.2 951.1C1233.7 953.4 1234.1 955.7 1234.6 958.0C1235.0 960.3 1235.5 962.6 1235.9 964.9C1236.4 967.2 1236.8 969.5 1237.3 971.8C1237.7 974.1 1238.2 976.4 1238.6 978.7C1239.1 981.0 1239.5 983.3 1240.0 985.6C1240.5 987.9 1240.9 990.2 1241.4 992.5C1241.8 994.8 1242.3 997.1 1242.7 999.4C1243.2 1001.7 1243.6 1004.0 1244.1 1006.3C1244.5 1008.6 1245.0 1010.9 1245.4 1013.2C1245.9 1015.5 1246.3 1017.8 1246.8 1020.1C1247.3 1022.4 1247.7 1024.7 1248.2 1027.0C1248.6 1029.3 1249.1 1031.6 1249.5 1033.9C1250.0 1036.2 1250.4 1038.5 1250.9 1040.8C1251.4 1043.1 1251.8 1045.4 1252.3 1047.7C1252.7 1050.0 1253.2 1052.3 1253.6 1054.6C1254.1 1056.9 1254.6 1059.2 1255.0 1061.5C1255.5 1063.9 1255.9 1066.2 1256.4 1068.5C1256.9 1070.8 1257.3 1073.1 1257.8 1075.4C1258.2 1077.7 1258.7 1080.0 1259.2 1082.3C1259.7 1084.6 1260.1 1086.9 1260.6 1089.2C1261.1 1091.5 1261.6 1093.7 1262.1 1096.0C1262.6 1098.3 1263.1 1100.6 1263.6 1102.9C1264.1 1105.2 1264.6 1107.5 1265.1 1109.8C1265.7 1112.1 1266.2 1114.3 1266.8 1116.6C1267.3 1118.9 1267.9 1121.2 1268.5 1123.4C1269.0 1125.7 1269.6 1128.0 1270.2 1130.2C1270.8 1132.5 1271.5 1134.7 1272.1 1137.0C1272.7 1139.2 1273.4 1141.5 1274.1 1143.7C1274.8 1145.9 1275.4 1148.2 1276.2 1150.4C1276.9 1152.6 1277.6 1154.8 1278.4 1157.1C1279.1 1159.3 1279.9 1161.5 1280.7 1163.7C1281.5 1165.9 1282.3 1168.1 1283.2 1170.2C1284.0 1172.4 1284.9 1174.6 1285.8 1176.8C1286.7 1178.9 1287.7 1181.1 1288.6 1183.2C1289.6 1185.4 1290.6 1187.5 1291.6 1189.7C1292.6 1191.8 1293.6 1193.9 1294.7 1196.0C1295.8 1198.1 1296.9 1200.3 1298.1 1202.3C1299.2 1204.4 1300.4 1206.5 1301.6 1208.6C1302.8 1210.7 1304.1 1212.7 1305.3 1214.8C1306.6 1216.8 1307.9 1218.8 1309.3 1220.8C1310.7 1222.7 1312.1 1224.6 1313.6 1226.4C1315.1 1228.1 1316.7 1229.7 1318.3 1231.1C1320.0 1232.5 1321.7 1233.8 1323.5 1234.8C1325.4 1235.7 1327.3 1236.5 1329.3 1236.9C1331.4 1237.4 1333.5 1237.5 1335.8 1237.3C1338.0 1237.1 1340.3 1236.7 1342.6 1236.0C1344.9 1235.3 1347.1 1234.4 1349.2 1233.3C1351.3 1232.2 1353.4 1231.0 1355.3 1229.6C1357.3 1228.3 1359.2 1226.8 1361.1 1225.1C1362.9 1223.5 1364.7 1221.8 1366.5 1220.1C1368.2 1218.3 1370.0 1216.4 1371.7 1214.6C1373.4 1212.7 1375.1 1210.8 1376.8 1208.9C1378.6 1207.0 1380.3 1205.1 1382.0 1203.3C1383.7 1201.5 1385.5 1199.7 1387.2 1198.0C1389.0 1196.3 1390.8 1194.6 1392.6 1193.1C1394.5 1191.6 1396.3 1190.1 1398.2 1188.8C1400.1 1187.4 1402.0 1186.1 1404.0 1184.9C1405.9 1183.7 1407.9 1182.6 1409.9 1181.6C1411.9 1180.5 1413.9 1179.5 1416.0 1178.6C1418.1 1177.7 1420.1 1176.9 1422.2 1176.1C1424.3 1175.3 1426.4 1174.6 1428.6 1173.9C1430.7 1173.3 1432.9 1172.7 1435.1 1172.2C1437.3 1171.6 1439.5 1171.1 1441.7 1170.7C1443.9 1170.2 1446.1 1169.9 1448.4 1169.5C1450.6 1169.2 1452.9 1168.9 1455.2 1168.6C1457.4 1168.4 1459.7 1168.2 1462.0 1168.0C1464.3 1167.8 1466.7 1167.7 1469.0 1167.6C1471.3 1167.5 1473.6 1167.4 1476.0 1167.3C1478.3 1167.3 1480.7 1167.3 1483.0 1167.3C1485.4 1167.3 1487.8 1167.3 1490.1 1167.3C1492.5 1167.4 1494.9 1167.4 1497.3 1167.5C1499.7 1167.6 1502.0 1167.7 1504.4 1167.8C1506.8 1167.9 1509.2 1168.0 1511.6 1168.1C1514.0 1168.2 1516.4 1168.3 1518.7 1168.5C1521.1 1168.6 1523.5 1168.7 1525.9 1168.8C1528.3 1168.9 1530.7 1169.1 1533.0 1169.2C1535.4 1169.3 1537.8 1169.4 1540.1 1169.5C1542.5 1169.6 1544.9 1169.8 1547.3 1169.9C1549.6 1170.0 1552.0 1170.1 1554.4 1170.2C1556.7 1170.3 1559.1 1170.4 1561.4 1170.5C1563.8 1170.6 1566.2 1170.8 1568.5 1170.9C1570.9 1171.0 1573.2 1171.1 1575.6 1171.2C1577.9 1171.3 1580.3 1171.4 1582.6 1171.5C1585.0 1171.6 1587.3 1171.7 1589.7 1171.8C1592.0 1171.9 1594.4 1172.0 1596.7 1172.1C1599.1 1172.2 1601.4 1172.3 1603.8 1172.4C1606.1 1172.5 1608.4 1172.6 1610.8 1172.7C1613.1 1172.8 1615.5 1172.9 1617.8 1173.0C1620.1 1173.0 1622.5 1173.1 1624.8 1173.2C1627.1 1173.3 1629.5 1173.4 1631.8 1173.5C1634.1 1173.6 1636.5 1173.7 1638.8 1173.7C1641.1 1173.8 1643.5 1173.9 1645.8 1174.0C1648.1 1174.1 1650.5 1174.2 1652.8 1174.2C1655.1 1174.3 1657.5 1174.4 1659.8 1174.5C1662.1 1174.5 1664.4 1174.6 1666.8 1174.7C1669.1 1174.8 1671.4 1174.8 1673.8 1174.9C1676.1 1175.0 1678.4 1175.1 1680.7 1175.1C1683.1 1175.2 1685.4 1175.3 1687.7 1175.3C1690.0 1175.4 1692.4 1175.5 1694.7 1175.5C1697.0 1175.6 1699.3 1175.6 1701.7 1175.7C1704.0 1175.8 1706.3 1175.8 1708.7 1175.9C1711.0 1175.9 1713.3 1176.0 1715.6 1176.1C1718.0 1176.1 1720.3 1176.2 1722.6 1176.2C1725.0 1176.3 1727.3 1176.3 1729.6 1176.4C1731.9 1176.4 1734.3 1176.5 1736.6 1176.5C1738.9 1176.6 1741.3 1176.6 1743.6 1176.6C1745.9 1176.7 1748.3 1176.7 1750.6 1176.8C1752.9 1176.8 1755.3 1176.8 1757.6 1176.9C1759.9 1176.9 1762.3 1176.9 1764.6 1177.0C1766.9 1177.0 1769.3 1177.0 1771.6 1177.1C1773.9 1177.1 1776.3 1177.1 1778.6 1177.2C1781.0 1177.2 1783.3 1177.2 1785.7 1177.2C1788.0 1177.3 1790.3 1177.3 1792.7 1177.3C1795.0 1177.3 1797.4 1177.3 1799.7 1177.4C1802.1 1177.4 1804.4 1177.4 1806.8 1177.4C1809.1 1177.4 1811.5 1177.4 1813.8 1177.4C1816.2 1177.5 1818.5 1177.5 1820.9 1177.5C1823.3 1177.5 1825.6 1177.5 1828.0 1177.5C1830.3 1177.5 1832.7 1177.5 1835.1 1177.5C1837.4 1177.5 1839.8 1177.5 1842.2 1177.5C1844.5 1177.5 1846.9 1177.5 1849.3 1177.5C1851.7 1177.5 1854.0 1177.5 1856.4 1177.4C1858.8 1177.4 1861.2 1177.4 1863.6 1177.4" stroke="#0000ff"/>
<path d="M232.7 1169.4C235.0 1169.2 237.4 1169.1 239.7 1169.0C242.0 1168.8 244.4 1168.7 246.7 1168.6C249.1 1168.4 251.4 1168.3 253.8 1168.2C256.1 1168.0 258.4 1167.9 260.8 1167.8C263.1 1167.6 265.5 1167.5 267.8 1167.4C270.1 1167.2 272.5 1167.1 274.8 1167.0C277.2 1166.8 279.5 1166.7 281.8 1166.5C284.2 1166.4 286.5 1166.3 288.9 1166.1C291.2 1166.0 293.5 1165.9 295.9 1165.7C298.2 1165.6 300.6 1165.4 302.9 1165.3C305.2 1165.2 307.6 1165.0 309.9 1164.9C312.3 1164.8 314.6 1164.6 316.9 1164.5C319.3 1164.4 321.6 1164.2 323.9 1164.1C326.3 1163.9 328.6 1163.8 331.0 1163.7C333.3 1163.5 335.6 1163.4 338.0 1163.3C340.3 1163.1 342.6 1163.0 345.0 1162.9C347.3 1162.7 349.7 1162.6 352.0 1162.5C354.3 1162.3 356.7 1162.2 359.0 1162.1C361.3 1161.9 363.7 1161.8 366.0 1161.7C368.4 1161.6 370.7 1161.4 373.0 1161.3C375.4 1161.2 377.7 1161.0 380.0 1160.9C382.4 1160.8 384.7 1160.7 387.1 1160.5C389.4 1160.4 391.7 1160.3 394.1 1160.2C396.4 1160.1 398.7 1159.9 401.1 1159.8C403.4 1159.7 405.8 1159.6 408.1 1159.5C410.4 1159.4 412.8 1159.2 415.1 1159.1C417.4 1159.0 419.8 1158.9 422.1 1158.8C424.5 1158.7 426.8 1158.6 429.1 1158.5C431.5 1158.4 433.8 1158.3 436.1 1158.2C438.5 1158.0 440.8 1157.9 443.2 1157.8C445.5 1157.7 447.8 1157.6 450.2 1157.6C452.5 1157.5 454.9 1157.4 457.2 1157.3C459.5 1157.2 461.9 1157.1 464.2 1157.0C466.5 1156.9 468.9 1156.8 471.2 1156.7C473.6 1156.7 475.9 1156.6 478.3 1156.5C480.6 1156.4 482.9 1156.3 485.3 1156.3C487.6 1156.2 490.0 1156.1 492.3 1156.0C494.6 1156.0 497.0 1155.9 499.3 1155.8C501.7 1155.8 504.0 1155.7 506.4 1155.6C508.7 1155.6 511.0 1155.5 513.4 1155.5C515.7 1155.4 518.1 1155.4 520.4 1155.3C522.8 1155.3 525.1 1155.2 527.4 1155.2C529.8 1155.1 532.1 1155.1 534.5 1155.0C536.8 1155.0 539.2 1155.0 541.5 1154.9C543.9 1154.9 546.2 1154.9 548.6 1154.8C550.9 1154.8 553.3 1154.8 555.6 1154.8C558.0 1154.8 560.3 1154.7 562.7 1154.7C565.0 1154.7 567.3 1154.7 569.7 1154.7C572.0 1154.7 574.4 1154.6 576.7 1154.6C579.1 1154.6 581.4 1154.6 583.8 1154.5C586.1 1154.5 588.5 1154.5 590.8 1154.4C593.2 1154.4 595.5 1154.3 597.9 1154.3C600.2 1154.2 602.6 1154.1 604.9 1154.0C607.2 1154.0 609.6 1153.9 611.9 1153.7C614.2 1153.6 616.6 1153.5 618.9 1153.3C621.3 1153.2 623.6 1153.0 625.9 1152.8C628.2 1152.6 630.6 1152.4 632.9 1152.1C635.2 1151.9 637.5 1151.6 639.9 1151.4C642.2 1151.1 644.5 1150.8 646.8 1150.4C649.1 1150.1 651.4 1149.7 653.7 1149.3C656.0 1148.9 658.3 1148.4 660.6 1148.0C662.9 1147.5 665.2 1147.0 667.5 1146.5C669.8 1146.0 672.1 1145.5 674.4 1145.0C676.7 1144.6 679.0 1144.2 681.3 1143.8C683.6 1143.4 685.9 1143.1 688.2 1142.9C690.6 1142.7 692.9 1142.6 695.2 1142.6C697.6 1142.6 699.9 1142.7 702.3 1143.0C704.6 1143.3 707.0 1143.8 709.4 1144.3C711.8 1144.9 714.1 1145.6 716.5 1146.3C718.9 1147.0 721.3 1147.8 723.7 1148.6C726.0 1149.5 728.4 1150.3 730.7 1151.1C733.1 1151.9 735.4 1152.6 737.7 1153.3C740.0 1154.0 742.3 1154.6 744.5 1155.0C746.8 1155.5 749.0 1155.8 751.1 1156.0C753.3 1156.2 755.4 1156.1 757.5 1155.9C759.5 1155.7 761.6 1155.2 763.5 1154.5C765.5 1153.8 767.4 1152.9 769.2 1151.8C771.1 1150.7 772.8 1149.4 774.6 1147.9C776.3 1146.5 778.0 1144.9 779.6 1143.2C781.1 1141.4 782.7 1139.6 784.1 1137.7C785.6 1135.7 787.0 1133.7 788.3 1131.6C789.6 1129.5 790.9 1127.3 792.1 1125.2C793.2 1123.0 794.3 1120.8 795.3 1118.5C796.4 1116.3 797.3 1114.1 798.2 1111.9C799.1 1109.7 799.9 1107.4 800.7 1105.2C801.4 1103.0 802.2 1100.7 802.8 1098.5C803.5 1096.3 804.2 1094.0 804.8 1091.8C805.4 1089.5 806.0 1087.3 806.6 1085.0C807.2 1082.8 807.7 1080.5 808.3 1078.3C808.8 1076.0 809.4 1073.7 809.9 1071.5C810.5 1069.2 811.0 1067.0 811.6 1064.7C812.1 1062.4 812.6 1060.2 813.1 1057.9C813.6 1055.6 814.1 1053.3 814.7 1051.1C815.2 1048.8 815.6 1046.5 816.1 1044.2C816.6 1041.9 817.1 1039.7 817.6 1037.4C818.1 1035.1 818.5 1032.8 819.0 1030.5C819.5 1028.2 819.9 1026.0 820.4 1023.7C820.8 1021.4 821.3 1019.1 821.7 1016.8C822.2 1014.5 822.6 1012.2 823.1 1009.9C823.5 1007.6 824.0 1005.3 824.4 1003.0C824.8 1000.7 825.3 998.4 825.7 996.1C826.1 993.8 826.5 991.5 826.9 989.2C827.4 986.9 827.8 984.6 828.2 982.3C828.6 980.0 829.0 977.7 829.5 975.4C829.9 973.1 830.3 970.8 830.7 968.5C831.1 966.2 831.5 963.9 831.9 961.6C832.3 959.3 832.7 957.0 833.1 954.7C833.5 952.3 834.0 950.0 834.4 947.7C834.8 945.4 835.2 943.1 835.6 940.8C836.0 938.5 836.4 936.2 836.8 933.9C837.2 931.6 837.6 929.3 838.0 927.0C838.5 924.7 838.9 922.3 839.3 920.0C839.7 917.7 840.1 915.4 840.5 913.1C841.0 910.8 841.4 908.5 841.8 906.2C842.2 903.9 842.6 901.6 843.1 899.3C843.5 897.0 843.9 894.7 844.3 892.4C844.8 890.1 845.2 887.8 845.6 885.5C846.1 883.2 846.5 880.9 846.9 878.6C847.4 876.2 847.8 873.9 848.2 871.6C848.7 869.3 849.1 867.0 849.5 864.7C850.0 862.4 850.4 860.1 850.8 857.8C851.3 855.5 851.7 853.2 852.1 850.9C852.6 848.6 853.0 846.3 853.5 844.0C853.9 841.7 854.3 839.4 854.8 837.1C855.2 834.8 855.7 832.5 856.1 830.2C856.5 827.9 857.0 825.6 857.4 823.3C857.9 821.0 858.3 818.7 858.8 816.4C859.2 814.1 859.6 811.8 860.1 809.5C860.5 807.2 861.0 804.9 861.4 802.6C861.9 800.3 862.3 798.0 862.7 795.7C863.2 793.4 863.6 791.1 864.1 788.8C864.5 786.5 865.0 784.2 865.4 781.9C865.8 779.6 866.3 777.3 866.7 775.0C867.2 772.7 867.6 770.4 868.1 768.1C868.5 765.8 869.0 763.5 869.4 761.2C869.8 758.9 870.3 756.6 870.7 754.3C871.2 752.0 871.6 749.7 872.1 747.4C872.5 745.1 873.0 742.8 873.4 740.5C873.9 738.2 874.3 735.9 874.8 733.6C875.2 731.3 875.7 729.0 876.1 726.7C876.6 724.4 877.0 722.1 877.5 719.8C877.9 717.5 878.4 715.2 878.8 712.9C879.3 710.6 879.8 708.3 880.2 706.0C880.7 703.7 881.1 701.4 881.6 699.1C882.0 696.8 882.5 694.5 883.0 692.2C883.4 689.9 883.9 687.6 884.4 685.4C884.8 683.1 885.3 680.8 885.8 678.5C886.2 676.2 886.7 673.9 887.2 671.6C887.6 669.3 888.1 667.0 888.6 664.7C889.0 662.4 889.5 660.1 890.0 657.8C890.5 655.5 890.9 653.2 891.4 650.9C891.9 648.6 892.4 646.3 892.9 644.0C893.3 641.8 893.8 639.5 894.3 637.2C894.8 634.9 895.3 632.6 895.8 630.3C896.2 628.0 896.7 625.7 897.2 623.4C897.7 621.1 898.2 618.8 898.7 616.5C899.2 614.3 899.7 612.0 900.2 609.7C900.7 607.4 901.2 605.1 901.7 602.8C902.2 600.5 902.7 598.2 903.2 595.9C903.7 593.7 904.2 591.4 904.7 589.1C905.3 586.8 905.8 584.5 906.3 582.2C906.8 579.9 907.3 577.6 907.8 575.4C908.4 573.1 908.9 570.8 909.4 568.5C909.9 566.2 910.5 563.9 911.0 561.6C911.5 559.4 912.1 557.1 912.6 554.8C913.1 552.5 913.7 550.2 914.2 547.9C914.8 545.7 915.3 543.4 915.9 541.1C916.4 538.8 917.0 536.5 917.5 534.3C918.1 532.0 918.6 529.7 919.2 527.4C919.8 525.2 920.4 522.9 921.0 520.6C921.5 518.3 922.1 516.1 922.7 513.8C923.3 511.5 923.9 509.3 924.5 507.0C925.2 504.8 925.8 502.5 926.4 500.2C927.0 498.0 927.7 495.7 928.3 493.5C928.9 491.2 929.6 489.0 930.3 486.7C930.9 484.5 931.6 482.3 932.3 480.0C933.0 477.8 933.6 475.6 934.3 473.3C935.1 471.1 935.8 468.9 936.5 466.6C937.2 464.4 937.9 462.2 938.7 460.0C939.4 457.8 940.2 455.6 941.0 453.4C941.7 451.2 942.5 449.0 943.3 446.8C944.1 444.6 944.9 442.4 945.7 440.2C946.6 438.0 947.4 435.8 948.3 433.7C949.1 431.5 950.0 429.3 951.0 427.2C951.9 425.0 952.9 422.9 953.9 420.8C954.9 418.7 955.9 416.6 957.0 414.5C958.1 412.4 959.3 410.3 960.5 408.3C961.7 406.2 963.0 404.2 964.3 402.2C965.7 400.2 967.1 398.2 968.5 396.4C970.0 394.5 971.6 392.7 973.3 391.1C975.0 389.6 976.8 388.2 978.8 387.1C980.7 386.0 982.8 385.2 985.1 384.8C987.3 384.3 989.7 384.3 992.1 384.6C994.4 385.0 996.6 385.8 998.7 387.0C1000.7 388.2 1002.5 389.8 1004.2 391.4C1005.9 393.1 1007.5 394.9 1009.0 396.7C1010.5 398.5 1011.9 400.4 1013.3 402.3C1014.6 404.2 1015.8 406.2 1017.0 408.2C1018.2 410.2 1019.3 412.3 1020.4 414.4C1021.4 416.4 1022.5 418.6 1023.5 420.7C1024.5 422.8 1025.4 424.9 1026.4 427.1C1027.4 429.2 1028.3 431.4 1029.2 433.5C1030.2 435.7 1031.1 437.8 1032.0 440.0C1032.9 442.1 1033.7 444.3 1034.6 446.5C1035.5 448.7 1036.3 450.9 1037.2 453.0C1038.0 455.2 1038.8 457.4 1039.6 459.6C1040.4 461.8 1041.2 464.0 1042.0 466.2C1042.8 468.4 1043.5 470.6 1044.3 472.9C1045.0 475.1 1045.8 477.3 1046.5 479.5C1047.2 481.7 1048.0 484.0 1048.7 486.2C1049.4 488.4 1050.1 490.7 1050.8 492.9C1051.4 495.2 1052.1 497.4 1052.8 499.6C1053.5 501.9 1054.1 504.1 1054.8 506.4C1055.4 508.6 1056.1 510.9 1056.7 513.2C1057.3 515.4 1058.0 517.7 1058.6 519.9C1059.2 522.2 1059.8 524.5 1060.4 526.7C1061.0 529.0 1061.6 531.3 1062.2 533.5C1062.8 535.8 1063.4 538.1 1064.0 540.3C1064.6 542.6 1065.2 544.9 1065.7 547.1C1066.3 549.4 1066.9 551.7 1067.5 554.0C1068.0 556.2 1068.6 558.5 1069.2 560.8C1069.7 563.1 1070.3 565.3 1070.8 567.6C1071.4 569.9 1071.9 572.2 1072.5 574.5C1073.0 576.7 1073.5 579.0 1074.1 581.3C1074.6 583.6 1075.1 585.9 1075.7 588.1C1076.2 590.4 1076.7 592.7 1077.2 595.0C1077.8 597.3 1078.3 599.6 1078.8 601.9C1079.3 604.1 1079.8 606.4 1080.3 608.7C1080.8 611.0 1081.3 613.3 1081.8 615.6C1082.3 617.9 1082.8 620.2 1083.3 622.4C1083.8 624.7 1084.3 627.0 1084.8 629.3C1085.2 631.6 1085.7 633.9 1086.2 636.2C1086.7 638.5 1087.2 640.8 1087.6 643.1C1088.1 645.4 1088.6 647.7 1089.0 650.0C1089.5 652.3 1090.0 654.6 1090.4 656.9C1090.9 659.1 1091.4 661.4 1091.8 663.7C1092.3 666.0 1092.7 668.3 1093.2 670.6C1093.6 672.9 1094.1 675.2 1094.5 677.5C1094.9 679.8 1095.4 682.1 1095.8 684.4C1096.3 686.7 1096.7 689.0 1097.1 691.3C1097.6 693.6 1098.0 695.9 1098.4 698.3C1098.9 700.6 1099.3 702.9 1099.7 705.2C1100.2 707.5 1100.6 709.8 1101.0 712.1C1101.4 714.4 1101.8 716.7 1102.3 719.0C1102.7 721.3 1103.1 723.6 1103.5 725.9C1103.9 728.2 1104.3 730.5 1104.8 732.8C1105.2 735.1 1105.6 737.4 1106.0 739.7C1106.4 742.1 1106.8 744.4 1107.2 746.7C1107.6 749.0 1108.0 751.3 1108.4 753.6C1108.8 755.9 1109.2 758.2 1109.6 760.5C1110.0 762.8 1110.4 765.1 1110.8 767.4C1111.2 769.8 1111.6 772.1 1112.0 774.4C1112.4 776.7 1112.8 779.0 1113.2 781.3C1113.6 783.6 1114.0 785.9 1114.4 788.2C1114.8 790.5 1115.1 792.9 1115.5 795.2C1115.9 797.5 1116.3 799.8 1116.7 802.1C1117.1 804.4 1117.5 806.7 1117.9 809.0C1118.3 811.3 1118.6 813.7 1119.0 816.0C1119.4 818.3 1119.8 820.6 1120.2 822.9C1120.6 825.2 1121.0 827.5 1121.3 829.8C1121.7 832.1 1122.1 834.5 1122.5 836.8C1122.9 839.1 1123.3 841.4 1123.6 843.7C1124.0 846.0 1124.4 848.3 1124.8 850.6C1125.2 852.9 1125.5 855.3 1125.9 857.6C1126.3 859.9 1126.7 862.2 1127.1 864.5C1127.5 866.8 1127.8 869.1 1128.2 871.4C1128.6 873.8 1129.0 876.1 1129.4 878.4C1129.7 880.7 1130.1 883.0 1130.5 885.3C1130.9 887.6 1131.3 889.9 1131.6 892.3C1132.0 894.6 1132.4 896.9 1132.8 899.2C1133.2 901.5 1133.5 903.8 1133.9 906.1C1134.3 908.4 1134.7 910.7 1135.1 913.1C1135.5 915.4 1135.8 917.7 1136.2 920.0C1136.6 922.3 1137.0 924.6 1137.4 926.9C1137.8 929.2 1138.1 931.5 1138.5 933.9C1138.9 936.2 1139.3 938.5 1139.7 940.8C1140.1 943.1 1140.5 945.4 1140.8 947.7C1141.2 950.0 1141.6 952.3 1142.0 954.7C1142.4 957.0 1142.8 959.3 1143.2 961.6C1143.6 963.9 1144.0 966.2 1144.3 968.5C1144.7 970.8 1145.1 973.1 1145.5 975.4C1145.9 977.7 1146.3 980.1 1146.7 982.4C1147.1 984.7 1147.5 987.0 1147.9 989.3C1148.3 991.6 1148.7 993.9 1149.1 996.2C1149.5 998.5 1149.9 1000.8 1150.3 1003.1C1150.7 1005.4 1151.1 1007.8 1151.5 1010.1C1151.9 1012.4 1152.3 1014.7 1152.7 1017.0C1153.1 1019.3 1153.6 1021.6 1154.0 1023.9C1154.4 1026.2 1154.8 1028.5 1155.2 1030.8C1155.6 1033.1 1156.0 1035.4 1156.4 1037.7C1156.9 1040.0 1157.3 1042.3 1157.7 1044.6C1158.1 1046.9 1158.5 1049.2 1159.0 1051.5C1159.4 1053.9 1159.8 1056.2 1160.2 1058.5C1160.7 1060.8 1161.1 1063.1 1161.5 1065.4C1162.0 1067.7 1162.4 1070.0 1162.8 1072.3C1163.3 1074.6 1163.7 1076.9 1164.2 1079.2C1164.6 1081.5 1165.1 1083.8 1165.5 1086.1C1166.0 1088.3 1166.4 1090.6 1166.9 1092.9C1167.4 1095.2 1167.9 1097.5 1168.3 1099.8C1168.8 1102.1 1169.3 1104.4 1169.8 1106.7C1170.3 1109.0 1170.8 1111.2 1171.4 1113.5C1171.9 1115.8 1172.4 1118.1 1172.9 1120.4C1173.5 1122.6 1174.0 1124.9 1174.6 1127.2C1175.1 1129.5 1175.7 1131.7 1176.3 1134.0C1176.9 1136.3 1177.5 1138.5 1178.1 1140.8C1178.7 1143.1 1179.3 1145.3 1180.0 1147.6C1180.6 1149.8 1181.2 1152.1 1181.9 1154.4C1182.6 1156.6 1183.3 1158.8 1184.0 1161.1C1184.7 1163.3 1185.4 1165.6 1186.1 1167.8C1186.8 1170.1 1187.6 1172.3 1188.3 1174.5C1189.1 1176.7 1189.9 1179.0 1190.7 1181.2C1191.5 1183.4 1192.3 1185.6 1193.1 1187.8C1194.0 1190.1 1194.8 1192.3 1195.7 1194.5C1196.6 1196.7 1197.5 1198.9 1198.5 1201.0C1199.5 1203.2 1200.5 1205.2 1201.8 1207.2C1203.0 1209.2 1204.3 1211.1 1205.9 1212.9C1207.4 1214.7 1209.2 1216.3 1211.1 1217.7C1213.1 1219.1 1215.3 1220.4 1217.5 1221.3C1219.7 1222.2 1222.0 1222.8 1224.3 1223.0C1226.6 1223.2 1228.8 1222.9 1231.0 1222.3C1233.2 1221.7 1235.4 1220.8 1237.5 1219.8C1239.6 1218.8 1241.7 1217.6 1243.9 1216.6C1246.0 1215.5 1248.2 1214.5 1250.3 1213.5C1252.5 1212.6 1254.6 1211.7 1256.8 1210.8C1259.0 1209.9 1261.2 1209.1 1263.4 1208.3C1265.6 1207.5 1267.8 1206.7 1270.0 1206.0C1272.2 1205.3 1274.4 1204.6 1276.6 1203.9C1278.8 1203.2 1281.1 1202.5 1283.3 1201.9C1285.5 1201.2 1287.8 1200.6 1290.0 1200.0C1292.3 1199.4 1294.5 1198.8 1296.7 1198.2C1299.0 1197.6 1301.2 1197.0 1303.5 1196.4C1305.7 1195.8 1308.0 1195.2 1310.3 1194.7C1312.5 1194.1 1314.8 1193.6 1317.1 1193.0C1319.3 1192.5 1321.6 1192.0 1323.9 1191.5C1326.1 1191.0 1328.4 1190.5 1330.7 1190.0C1333.0 1189.5 1335.3 1189.0 1337.5 1188.5C1339.8 1188.0 1342.1 1187.6 1344.4 1187.1C1346.7 1186.7 1349.0 1186.2 1351.3 1185.8C1353.6 1185.3 1355.9 1184.9 1358.2 1184.5C1360.5 1184.1 1362.8 1183.7 1365.1 1183.3C1367.4 1182.9 1369.7 1182.5 1372.0 1182.1C1374.3 1181.7 1376.6 1181.4 1378.9 1181.0C1381.2 1180.6 1383.6 1180.3 1385.9 1180.0C1388.2 1179.6 1390.5 1179.3 1392.8 1178.9C1395.2 1178.6 1397.5 1178.3 1399.8 1178.0C1402.1 1177.7 1404.5 1177.4 1406.8 1177.1C1409.1 1176.8 1411.4 1176.5 1413.8 1176.2C1416.1 1175.9 1418.4 1175.7 1420.8 1175.4C1423.1 1175.1 1425.4 1174.9 1427.8 1174.6C1430.1 1174.4 1432.4 1174.1 1434.8 1173.9C1437.1 1173.7 1439.5 1173.4 1441.8 1173.2C1444.1 1173.0 1446.5 1172.8 1448.8 1172.6C1451.2 1172.4 1453.5 1172.2 1455.9 1172.0C1458.2 1171.8 1460.5 1171.6 1462.9 1171.4C1465.2 1171.2 1467.6 1171.0 1469.9 1170.9C1472.3 1170.7 1474.6 1170.5 1477.0 1170.4C1479.3 1170.2 1481.7 1170.1 1484.0 1169.9C1486.4 1169.8 1488.7 1169.7 1491.1 1169.5C1493.4 1169.4 1495.7 1169.3 1498.1 1169.1C1500.4 1169.0 1502.8 1168.9 1505.1 1168.8C1507.5 1168.7 1509.8 1168.6 1512.2 1168.5C1514.5 1168.4 1516.9 1168.3 1519.2 1168.2C1521.6 1168.1 1523.9 1168.0 1526.3 1167.9C1528.6 1167.8 1530.9 1167.7 1533.3 1167.7C1535.6 1167.6 1538.0 1167.5 1540.3 1167.4C1542.7 1167.4 1545.0 1167.3 1547.4 1167.3C1549.7 1167.2 1552.0 1167.1 1554.4 1167.1C1556.7 1167.0 1559.1 1167.0 1561.4 1167.0C1563.8 1166.9 1566.1 1166.9 1568.4 1166.8C1570.8 1166.8 1573.1 1166.8 1575.5 1166.8C1577.8 1166.7 1580.1 1166.7 1582.5 1166.7C1584.8 1166.7 1587.2 1166.6 1589.5 1166.6C1591.8 1166.6 1594.2 1166.6 1596.5 1166.6C1598.9 1166.6 1601.2 1166.6 1603.5 1166.6C1605.9 1166.6 1608.2 1166.6 1610.5 1166.6C1612.9 1166.6 1615.2 1166.6 1617.6 1166.6C1619.9 1166.6 1622.2 1166.7 1624.6 1166.7C1626.9 1166.7 1629.2 1166.7 1631.6 1166.7C1633.9 1166.8 1636.3 1166.8 1638.6 1166.8C1640.9 1166.8 1643.3 1166.9 1645.6 1166.9C1647.9 1166.9 1650.3 1167.0 1652.6 1167.0C1655.0 1167.0 1657.3 1167.1 1659.6 1167.1C1662.0 1167.2 1664.3 1167.2 1666.6 1167.2C1669.0 1167.3 1671.3 1167.3 1673.7 1167.4C1676.0 1167.4 1678.3 1167.5 1680.7 1167.5C1683.0 1167.6 1685.3 1167.6 1687.7 1167.7C1690.0 1167.7 1692.3 1167.8 1694.7 1167.9C1697.0 1167.9 1699.4 1168.0 1701.7 1168.0C1704.0 1168.1 1706.4 1168.2 1708.7 1168.2C1711.0 1168.3 1713.4 1168.3 1715.7 1168.4C1718.1 1168.5 1720.4 1168.5 1722.7 1168.6C1725.1 1168.7 1727.4 1168.7 1729.8 1168.8C1732.1 1168.9 1734.4 1168.9 1736.8 1169.0C1739.1 1169.1 1741.5 1169.2 1743.8 1169.2C1746.1 1169.3 1748.5 1169.4 1750.8 1169.4C1753.2 1169.5 1755.5 1169.6 1757.8 1169.6C1760.2 1169.7 1762.5 1169.8 1764.9 1169.9C1767.2 1169.9 1769.5 1170.0 1771.9 1170.1C1774.2 1170.1 1776.6 1170.2 1778.9 1170.3C1781.3 1170.4 1783.6 1170.4 1785.9 1170.5C1788.3 1170.6 1790.6 1170.6 1793.0 1170.7C1795.3 1170.8 1797.7 1170.9 1800.0 1170.9C1802.3 1171.0 1804.7 1171.1 1807.0 1171.1C1809.4 1171.2 1811.7 1171.3 1814.1 1171.3C1816.4 1171.4 1818.8 1171.5 1821.1 1171.5C1823.5 1171.6 1825.8 1171.6 1828.2 1171.7C1830.5 1171.8 1832.9 1171.8 1835.2 1171.9C1837.6 1171.9 1839.9 1172.0 1842.3 1172.1C1844.6 1172.1 1847.0 1172.2 1849.3 1172.2C1851.7 1172.3 1854.0 1172.3 1856.4 1172.4C1858.7 1172.4 1861.1 1172.5 1863.4 1172.5" stroke="#ff00ff"/>
<path d="M232.7 1172.7C235.1 1172.8 237.4 1172.9 239.7 1173.0C242.0 1173.1 244.3 1173.2 246.7 1173.3C249.0 1173.4 251.3 1173.4 253.7 1173.5C256.0 1173.6 258.3 1173.6 260.6 1173.7C263.0 1173.8 265.3 1173.8 267.6 1173.9C270.0 1173.9 272.3 1174.0 274.7 1174.0C277.0 1174.1 279.3 1174.1 281.7 1174.2C284.0 1174.2 286.3 1174.2 288.7 1174.3C291.0 1174.3 293.4 1174.3 295.7 1174.3C298.1 1174.4 300.4 1174.4 302.8 1174.4C305.1 1174.4 307.4 1174.5 309.8 1174.5C312.1 1174.5 314.5 1174.5 316.8 1174.5C319.2 1174.5 321.5 1174.5 323.9 1174.6C326.2 1174.6 328.6 1174.6 330.9 1174.6C333.3 1174.6 335.6 1174.6 338.0 1174.6C340.3 1174.6 342.7 1174.6 345.0 1174.7C347.4 1174.7 349.7 1174.7 352.1 1174.7C354.4 1174.7 356.8 1174.7 359.1 1174.7C361.5 1174.7 363.8 1174.8 366.2 1174.8C368.5 1174.8 370.9 1174.8 373.2 1174.8C375.6 1174.8 377.9 1174.9 380.3 1174.9C382.6 1174.9 385.0 1174.9 387.3 1175.0C389.7 1175.0 392.0 1175.0 394.4 1175.1C396.7 1175.1 399.1 1175.2 401.4 1175.2C403.8 1175.3 406.1 1175.3 408.5 1175.4C410.8 1175.4 413.1 1175.5 415.5 1175.5C417.8 1175.6 420.2 1175.7 422.5 1175.7C424.8 1175.8 427.2 1175.9 429.5 1176.0C431.9 1176.1 434.2 1176.1 436.5 1176.2C438.9 1176.3 441.2 1176.4 443.5 1176.5C445.8 1176.7 448.2 1176.8 450.5 1176.9C452.8 1177.0 455.2 1177.1 457.5 1177.3C459.8 1177.4 462.1 1177.5 464.5 1177.6C466.8 1177.8 469.1 1177.9 471.4 1178.0C473.8 1178.2 476.1 1178.3 478.4 1178.4C480.7 1178.6 483.0 1178.7 485.4 1178.8C487.7 1179.0 490.0 1179.1 492.3 1179.2C494.6 1179.4 497.0 1179.5 499.3 1179.6C501.6 1179.7 503.9 1179.8 506.2 1179.9C508.6 1180.1 510.9 1180.2 513.2 1180.2C515.5 1180.3 517.8 1180.4 520.2 1180.5C522.5 1180.6 524.8 1180.7 527.1 1180.7C529.5 1180.8 531.8 1180.8 534.1 1180.9C536.4 1180.9 538.8 1181.0 541.1 1181.0C543.4 1181.0 545.8 1181.0 548.1 1181.0C550.4 1181.0 552.8 1181.0 555.1 1181.0C557.4 1180.9 559.8 1180.9 562.1 1180.8C564.4 1180.7 566.8 1180.7 569.1 1180.6C571.5 1180.5 573.8 1180.4 576.2 1180.2C578.5 1180.1 580.8 1179.9 583.2 1179.8C585.5 1179.6 587.9 1179.4 590.3 1179.2C592.6 1179.0 595.0 1178.8 597.3 1178.5C599.7 1178.3 602.1 1178.0 604.4 1177.8C606.8 1177.5 609.1 1177.2 611.5 1176.9C613.9 1176.6 616.2 1176.3 618.6 1176.1C621.0 1175.8 623.3 1175.5 625.7 1175.2C628.1 1174.9 630.4 1174.6 632.8 1174.3C635.1 1174.0 637.5 1173.7 639.9 1173.4C642.2 1173.2 644.6 1172.9 646.9 1172.6C649.3 1172.4 651.6 1172.1 654.0 1171.9C656.3 1171.7 658.7 1171.5 661.0 1171.3C663.4 1171.1 665.7 1170.9 668.1 1170.8C670.4 1170.6 672.7 1170.5 675.1 1170.4C677.4 1170.3 679.7 1170.2 682.0 1170.2C684.3 1170.1 686.7 1170.1 689.0 1170.2C691.3 1170.2 693.6 1170.3 695.9 1170.4C698.2 1170.5 700.4 1170.6 702.7 1170.8C705.0 1171.0 707.3 1171.2 709.6 1171.5C711.8 1171.7 714.1 1172.1 716.3 1172.4C718.6 1172.8 720.8 1173.2 723.1 1173.7C725.3 1174.2 727.5 1174.7 729.8 1175.3C732.0 1175.9 734.2 1176.5 736.4 1177.2C738.6 1177.9 740.8 1178.7 743.0 1179.5C745.1 1180.4 747.3 1181.3 749.5 1182.2C751.6 1183.2 753.7 1184.2 755.8 1185.3C757.9 1186.4 760.0 1187.5 762.1 1188.7C764.1 1189.9 766.1 1191.1 768.1 1192.5C770.1 1193.8 772.0 1195.1 774.0 1196.6C775.9 1198.0 777.7 1199.5 779.5 1201.0C781.4 1202.5 783.1 1204.1 784.8 1205.8C786.6 1207.4 788.2 1209.1 789.8 1210.9C791.4 1212.6 793.0 1214.4 794.5 1216.3C796.1 1218.1 797.7 1219.9 799.3 1221.7C800.9 1223.6 802.6 1225.4 804.4 1227.1C806.3 1228.9 808.2 1230.6 810.3 1232.3C812.4 1233.9 814.7 1235.4 817.0 1236.7C819.3 1238.0 821.7 1239.0 823.9 1239.6C826.2 1240.2 828.4 1240.4 830.3 1240.0C832.3 1239.6 834.1 1238.6 835.7 1237.2C837.2 1235.8 838.7 1234.0 840.1 1232.1C841.4 1230.2 842.8 1228.2 844.0 1226.3C845.3 1224.3 846.6 1222.3 847.8 1220.3C849.0 1218.3 850.1 1216.3 851.3 1214.3C852.4 1212.2 853.5 1210.2 854.6 1208.1C855.6 1206.1 856.6 1204.0 857.6 1201.9C858.6 1199.9 859.6 1197.8 860.5 1195.7C861.5 1193.6 862.4 1191.4 863.2 1189.3C864.1 1187.2 865.0 1185.1 865.8 1182.9C866.6 1180.8 867.4 1178.6 868.1 1176.4C868.9 1174.3 869.6 1172.1 870.4 1169.9C871.1 1167.7 871.8 1165.5 872.4 1163.3C873.1 1161.1 873.7 1158.9 874.4 1156.7C875.0 1154.4 875.6 1152.2 876.2 1150.0C876.8 1147.7 877.3 1145.5 877.9 1143.2C878.4 1141.0 878.9 1138.7 879.5 1136.5C880.0 1134.2 880.5 1131.9 880.9 1129.7C881.4 1127.4 881.9 1125.1 882.3 1122.8C882.8 1120.5 883.2 1118.3 883.7 1116.0C884.1 1113.7 884.5 1111.4 884.9 1109.1C885.3 1106.8 885.7 1104.5 886.1 1102.1C886.5 1099.8 886.9 1097.5 887.3 1095.2C887.7 1092.9 888.0 1090.6 888.4 1088.3C888.8 1085.9 889.1 1083.6 889.5 1081.3C889.8 1079.0 890.2 1076.7 890.5 1074.3C890.9 1072.0 891.2 1069.7 891.6 1067.4C891.9 1065.1 892.3 1062.7 892.7 1060.4C893.0 1058.1 893.4 1055.8 893.7 1053.5C894.1 1051.1 894.4 1048.8 894.8 1046.5C895.1 1044.2 895.5 1041.9 895.8 1039.5C896.2 1037.2 896.5 1034.9 896.9 1032.6C897.2 1030.3 897.6 1027.9 897.9 1025.6C898.3 1023.3 898.6 1021.0 899.0 1018.7C899.3 1016.4 899.7 1014.0 900.1 1011.7C900.4 1009.4 900.8 1007.1 901.1 1004.8C901.5 1002.4 901.8 1000.1 902.2 997.8C902.5 995.5 902.9 993.2 903.2 990.9C903.6 988.5 903.9 986.2 904.3 983.9C904.7 981.6 905.0 979.3 905.4 977.0C905.7 974.6 906.1 972.3 906.4 970.0C906.8 967.7 907.1 965.4 907.5 963.1C907.9 960.8 908.2 958.4 908.6 956.1C908.9 953.8 909.3 951.5 909.6 949.2C910.0 946.9 910.4 944.6 910.7 942.2C911.1 939.9 911.4 937.6 911.8 935.3C912.2 933.0 912.5 930.7 912.9 928.4C913.2 926.0 913.6 923.7 913.9 921.4C914.3 919.1 914.7 916.8 915.0 914.5C915.4 912.2 915.8 909.8 916.1 907.5C916.5 905.2 916.8 902.9 917.2 900.6C917.6 898.3 917.9 896.0 918.3 893.7C918.6 891.3 919.0 889.0 919.4 886.7C919.7 884.4 920.1 882.1 920.5 879.8C920.8 877.5 921.2 875.2 921.6 872.9C921.9 870.5 922.3 868.2 922.7 865.9C923.0 863.6 923.4 861.3 923.8 859.0C924.1 856.7 924.5 854.4 924.9 852.1C925.2 849.7 925.6 847.4 926.0 845.1C926.3 842.8 926.7 840.5 927.1 838.2C927.4 835.9 927.8 833.6 928.2 831.3C928.5 828.9 928.9 826.6 929.3 824.3C929.7 822.0 930.0 819.7 930.4 817.4C930.8 815.1 931.1 812.8 931.5 810.5C931.9 808.2 932.3 805.8 932.6 803.5C933.0 801.2 933.4 798.9 933.8 796.6C934.1 794.3 934.5 792.0 934.9 789.7C935.3 787.4 935.7 785.1 936.0 782.7C936.4 780.4 936.8 778.1 937.2 775.8C937.5 773.5 937.9 771.2 938.3 768.9C938.7 766.6 939.1 764.3 939.5 762.0C939.8 759.7 940.2 757.3 940.6 755.0C941.0 752.7 941.4 750.4 941.8 748.1C942.1 745.8 942.5 743.5 942.9 741.2C943.3 738.9 943.7 736.6 944.1 734.3C944.5 732.0 944.9 729.6 945.3 727.3C945.7 725.0 946.1 722.7 946.5 720.4C946.9 718.1 947.3 715.8 947.7 713.5C948.1 711.2 948.5 708.9 948.9 706.6C949.3 704.3 949.7 702.0 950.1 699.7C950.5 697.4 950.9 695.1 951.3 692.7C951.7 690.4 952.1 688.1 952.5 685.8C952.9 683.5 953.4 681.2 953.8 678.9C954.2 676.6 954.6 674.3 955.0 672.0C955.5 669.7 955.9 667.4 956.3 665.1C956.7 662.8 957.2 660.5 957.6 658.2C958.0 655.9 958.5 653.6 958.9 651.3C959.3 649.0 959.8 646.7 960.2 644.4C960.7 642.1 961.1 639.8 961.6 637.5C962.0 635.2 962.4 632.9 962.9 630.6C963.3 628.3 963.8 626.0 964.3 623.7C964.7 621.4 965.2 619.1 965.6 616.8C966.1 614.6 966.6 612.3 967.0 610.0C967.5 607.7 968.0 605.4 968.5 603.1C968.9 600.8 969.4 598.5 969.9 596.2C970.4 593.9 970.9 591.6 971.3 589.3C971.8 587.1 972.3 584.8 972.8 582.5C973.3 580.2 973.8 577.9 974.3 575.6C974.8 573.3 975.3 571.0 975.8 568.8C976.3 566.5 976.8 564.2 977.4 561.9C977.9 559.6 978.4 557.3 978.9 555.1C979.4 552.8 980.0 550.5 980.5 548.2C981.0 545.9 981.6 543.6 982.1 541.4C982.6 539.1 983.2 536.8 983.7 534.5C984.3 532.3 984.8 530.0 985.4 527.7C986.0 525.4 986.5 523.2 987.1 520.9C987.7 518.6 988.2 516.4 988.8 514.1C989.4 511.8 990.0 509.6 990.6 507.3C991.2 505.0 991.9 502.8 992.5 500.5C993.1 498.3 993.7 496.0 994.4 493.8C995.0 491.5 995.7 489.3 996.4 487.0C997.0 484.8 997.7 482.6 998.4 480.3C999.1 478.1 999.8 475.9 1000.5 473.6C1001.2 471.4 1002.0 469.2 1002.7 467.0C1003.5 464.8 1004.2 462.6 1005.0 460.4C1005.8 458.2 1006.6 456.0 1007.4 453.8C1008.2 451.6 1009.0 449.4 1009.9 447.2C1010.7 445.0 1011.6 442.8 1012.5 440.7C1013.3 438.5 1014.2 436.3 1015.1 434.2C1016.1 432.0 1017.0 429.9 1018.0 427.7C1018.9 425.6 1019.9 423.4 1020.9 421.3C1021.9 419.2 1023.0 417.1 1024.1 415.1C1025.2 413.0 1026.4 411.0 1027.7 409.1C1029.0 407.1 1030.3 405.2 1031.7 403.3C1033.2 401.5 1034.7 399.7 1036.4 398.0C1038.1 396.3 1039.8 394.7 1041.8 393.3C1043.7 391.9 1045.7 390.8 1047.9 390.1C1050.1 389.4 1052.5 389.2 1054.8 389.4C1057.2 389.6 1059.4 390.2 1061.5 391.2C1063.5 392.1 1065.4 393.3 1067.2 394.8C1069.0 396.2 1070.6 397.9 1072.2 399.7C1073.7 401.5 1075.2 403.4 1076.5 405.3C1077.9 407.3 1079.2 409.3 1080.5 411.3C1081.7 413.4 1082.9 415.4 1084.1 417.5C1085.2 419.5 1086.3 421.6 1087.3 423.7C1088.4 425.8 1089.4 427.9 1090.3 430.1C1091.3 432.2 1092.2 434.3 1093.1 436.5C1094.0 438.7 1094.9 440.8 1095.7 443.0C1096.5 445.2 1097.4 447.4 1098.2 449.6C1099.0 451.8 1099.8 454.0 1100.6 456.2C1101.3 458.4 1102.1 460.6 1102.9 462.8C1103.6 465.0 1104.4 467.2 1105.1 469.4C1105.8 471.6 1106.5 473.8 1107.3 476.1C1108.0 478.3 1108.7 480.5 1109.3 482.8C1110.0 485.0 1110.7 487.2 1111.4 489.5C1112.0 491.7 1112.7 493.9 1113.3 496.2C1114.0 498.4 1114.6 500.7 1115.3 502.9C1115.9 505.2 1116.5 507.4 1117.1 509.7C1117.7 512.0 1118.3 514.2 1118.9 516.5C1119.5 518.8 1120.1 521.0 1120.7 523.3C1121.2 525.6 1121.8 527.8 1122.4 530.1C1122.9 532.4 1123.5 534.6 1124.1 536.9C1124.6 539.2 1125.1 541.5 1125.7 543.8C1126.2 546.0 1126.8 548.3 1127.3 550.6C1127.8 552.9 1128.3 555.2 1128.9 557.5C1129.4 559.7 1129.9 562.0 1130.4 564.3C1130.9 566.6 1131.4 568.9 1131.9 571.2C1132.4 573.5 1132.9 575.8 1133.4 578.0C1133.9 580.3 1134.4 582.6 1134.9 584.9C1135.3 587.2 1135.8 589.5 1136.3 591.8C1136.8 594.1 1137.3 596.4 1137.7 598.7C1138.2 601.0 1138.7 603.3 1139.1 605.6C1139.6 607.8 1140.1 610.1 1140.5 612.4C1141.0 614.7 1141.5 617.0 1141.9 619.3C1142.4 621.6 1142.8 623.9 1143.3 626.2C1143.7 628.5 1144.1 630.8 1144.6 633.1C1145.0 635.4 1145.5 637.7 1145.9 640.0C1146.3 642.3 1146.8 644.6 1147.2 646.9C1147.6 649.2 1148.1 651.5 1148.5 653.8C1148.9 656.1 1149.3 658.4 1149.8 660.7C1150.2 663.0 1150.6 665.3 1151.0 667.6C1151.4 669.9 1151.9 672.2 1152.3 674.5C1152.7 676.8 1153.1 679.2 1153.5 681.5C1153.9 683.8 1154.3 686.1 1154.7 688.4C1155.1 690.7 1155.5 693.0 1155.9 695.3C1156.3 697.6 1156.7 699.9 1157.1 702.2C1157.5 704.5 1157.9 706.8 1158.3 709.1C1158.7 711.4 1159.1 713.7 1159.5 716.1C1159.8 718.4 1160.2 720.7 1160.6 723.0C1161.0 725.3 1161.4 727.6 1161.8 729.9C1162.1 732.2 1162.5 734.5 1162.9 736.8C1163.3 739.1 1163.7 741.5 1164.0 743.8C1164.4 746.1 1164.8 748.4 1165.2 750.7C1165.5 753.0 1165.9 755.3 1166.3 757.6C1166.7 759.9 1167.0 762.2 1167.4 764.6C1167.8 766.9 1168.1 769.2 1168.5 771.5C1168.9 773.8 1169.2 776.1 1169.6 778.4C1170.0 780.7 1170.3 783.0 1170.7 785.4C1171.1 787.7 1171.4 790.0 1171.8 792.3C1172.2 794.6 1172.5 796.9 1172.9 799.2C1173.3 801.5 1173.6 803.9 1174.0 806.2C1174.3 808.5 1174.7 810.8 1175.1 813.1C1175.4 815.4 1175.8 817.7 1176.2 820.0C1176.5 822.3 1176.9 824.7 1177.2 827.0C1177.6 829.3 1178.0 831.6 1178.3 833.9C1178.7 836.2 1179.0 838.5 1179.4 840.8C1179.8 843.2 1180.1 845.5 1180.5 847.8C1180.8 850.1 1181.2 852.4 1181.6 854.7C1181.9 857.0 1182.3 859.3 1182.7 861.6C1183.0 864.0 1183.4 866.3 1183.7 868.6C1184.1 870.9 1184.5 873.2 1184.8 875.5C1185.2 877.8 1185.5 880.1 1185.9 882.5C1186.3 884.8 1186.6 887.1 1187.0 889.4C1187.4 891.7 1187.7 894.0 1188.1 896.3C1188.5 898.6 1188.8 900.9 1189.2 903.3C1189.5 905.6 1189.9 907.9 1190.3 910.2C1190.6 912.5 1191.0 914.8 1191.4 917.1C1191.8 919.4 1192.1 921.8 1192.5 924.1C1192.9 926.4 1193.2 928.7 1193.6 931.0C1194.0 933.3 1194.3 935.6 1194.7 937.9C1195.1 940.3 1195.5 942.6 1195.8 944.9C1196.2 947.2 1196.6 949.5 1197.0 951.8C1197.3 954.1 1197.7 956.4 1198.1 958.7C1198.5 961.1 1198.9 963.4 1199.2 965.7C1199.6 968.0 1200.0 970.3 1200.4 972.6C1200.8 974.9 1201.2 977.2 1201.5 979.6C1201.9 981.9 1202.3 984.2 1202.7 986.5C1203.1 988.8 1203.5 991.1 1203.9 993.4C1204.3 995.7 1204.7 998.1 1205.1 1000.4C1205.5 1002.7 1205.8 1005.0 1206.2 1007.3C1206.6 1009.6 1207.0 1011.9 1207.4 1014.2C1207.8 1016.6 1208.2 1018.9 1208.7 1021.2C1209.1 1023.5 1209.5 1025.8 1209.9 1028.1C1210.3 1030.4 1210.7 1032.7 1211.1 1035.1C1211.5 1037.4 1211.9 1039.7 1212.3 1042.0C1212.8 1044.3 1213.2 1046.6 1213.6 1048.9C1214.0 1051.2 1214.4 1053.6 1214.9 1055.9C1215.3 1058.2 1215.7 1060.5 1216.1 1062.8C1216.6 1065.1 1217.0 1067.4 1217.4 1069.7C1217.8 1072.1 1218.3 1074.4 1218.7 1076.7C1219.2 1079.0 1219.6 1081.3 1220.0 1083.6C1220.5 1085.9 1220.9 1088.2 1221.4 1090.6C1221.8 1092.9 1222.2 1095.2 1222.7 1097.5C1223.1 1099.8 1223.6 1102.1 1224.1 1104.4C1224.5 1106.7 1225.0 1109.1 1225.4 1111.4C1225.9 1113.7 1226.3 1116.0 1226.8 1118.3C1227.3 1120.6 1227.7 1122.9 1228.2 1125.2C1228.7 1127.6 1229.2 1129.9 1229.7 1132.2C1230.2 1134.5 1230.7 1136.8 1231.2 1139.1C1231.7 1141.3 1232.3 1143.6 1232.8 1145.9C1233.4 1148.2 1234.0 1150.4 1234.6 1152.7C1235.2 1154.9 1235.9 1157.1 1236.6 1159.3C1237.2 1161.5 1238.0 1163.7 1238.7 1165.9C1239.5 1168.1 1240.3 1170.2 1241.1 1172.4C1242.0 1174.5 1242.9 1176.6 1243.8 1178.7C1244.8 1180.7 1245.7 1182.8 1246.8 1184.8C1247.8 1186.8 1249.0 1188.8 1250.1 1190.8C1251.3 1192.7 1252.5 1194.7 1253.8 1196.5C1255.1 1198.4 1256.5 1200.3 1257.9 1202.1C1259.4 1203.9 1260.9 1205.7 1262.5 1207.4C1264.1 1209.2 1265.7 1210.9 1267.5 1212.4C1269.2 1213.8 1271.1 1215.1 1273.0 1215.9C1274.9 1216.7 1276.8 1217.0 1278.9 1216.8C1280.9 1216.6 1283.0 1216.0 1285.0 1215.0C1287.1 1214.0 1289.1 1212.8 1291.1 1211.5C1293.0 1210.1 1294.9 1208.6 1296.8 1207.0C1298.6 1205.4 1300.4 1203.8 1302.1 1202.0C1303.9 1200.2 1305.6 1198.4 1307.3 1196.5C1309.0 1194.7 1310.7 1192.8 1312.4 1190.9C1314.0 1189.0 1315.7 1187.1 1317.4 1185.2C1319.1 1183.4 1320.8 1181.5 1322.5 1179.8C1324.2 1178.0 1325.9 1176.3 1327.7 1174.7C1329.4 1173.1 1331.2 1171.6 1333.1 1170.2C1335.0 1168.8 1336.9 1167.6 1338.8 1166.5C1340.8 1165.5 1342.9 1164.6 1345.0 1163.8C1347.0 1163.0 1349.2 1162.4 1351.4 1161.9C1353.6 1161.3 1355.8 1160.9 1358.1 1160.6C1360.3 1160.3 1362.6 1160.0 1365.0 1159.8C1367.3 1159.7 1369.6 1159.5 1372.0 1159.4C1374.3 1159.4 1376.7 1159.3 1379.1 1159.3C1381.4 1159.2 1383.8 1159.2 1386.1 1159.1C1388.5 1159.1 1390.9 1159.1 1393.2 1159.0C1395.6 1159.0 1397.9 1159.0 1400.3 1159.0C1402.7 1159.0 1405.0 1159.0 1407.4 1159.0C1409.7 1159.0 1412.1 1159.0 1414.4 1159.0C1416.8 1159.0 1419.1 1159.0 1421.5 1159.0C1423.8 1159.0 1426.2 1159.1 1428.5 1159.1C1430.9 1159.1 1433.3 1159.2 1435.6 1159.2C1438.0 1159.2 1440.3 1159.3 1442.6 1159.3C1445.0 1159.4 1447.3 1159.4 1449.7 1159.5C1452.0 1159.6 1454.4 1159.6 1456.7 1159.7C1459.1 1159.8 1461.4 1159.8 1463.8 1159.9C1466.1 1160.0 1468.5 1160.1 1470.8 1160.1C1473.1 1160.2 1475.5 1160.3 1477.8 1160.4C1480.2 1160.5 1482.5 1160.6 1484.9 1160.7C1487.2 1160.8 1489.5 1160.9 1491.9 1161.0C1494.2 1161.1 1496.6 1161.2 1498.9 1161.3C1501.2 1161.4 1503.6 1161.5 1505.9 1161.7C1508.3 1161.8 1510.6 1161.9 1512.9 1162.0C1515.3 1162.2 1517.6 1162.3 1519.9 1162.4C1522.3 1162.5 1524.6 1162.7 1527.0 1162.8C1529.3 1162.9 1531.6 1163.1 1534.0 1163.2C1536.3 1163.3 1538.6 1163.5 1541.0 1163.6C1543.3 1163.8 1545.6 1163.9 1548.0 1164.1C1550.3 1164.2 1552.6 1164.4 1555.0 1164.5C1557.3 1164.7 1559.6 1164.8 1562.0 1165.0C1564.3 1165.1 1566.6 1165.3 1569.0 1165.4C1571.3 1165.6 1573.6 1165.7 1576.0 1165.9C1578.3 1166.0 1580.6 1166.2 1583.0 1166.4C1585.3 1166.5 1587.6 1166.7 1590.0 1166.8C1592.3 1167.0 1594.6 1167.2 1597.0 1167.3C1599.3 1167.5 1601.6 1167.7 1603.9 1167.8C1606.3 1168.0 1608.6 1168.1 1610.9 1168.3C1613.3 1168.5 1615.6 1168.6 1617.9 1168.8C1620.3 1169.0 1622.6 1169.1 1624.9 1169.3C1627.2 1169.5 1629.6 1169.6 1631.9 1169.8C1634.2 1169.9 1636.6 1170.1 1638.9 1170.3C1641.2 1170.4 1643.6 1170.6 1645.9 1170.8C1648.2 1170.9 1650.6 1171.1 1652.9 1171.2C1655.2 1171.4 1657.5 1171.5 1659.9 1171.7C1662.2 1171.9 1664.5 1172.0 1666.9 1172.2C1669.2 1172.3 1671.5 1172.5 1673.9 1172.6C1676.2 1172.8 1678.5 1172.9 1680.9 1173.1C1683.2 1173.2 1685.5 1173.4 1687.9 1173.5C1690.2 1173.7 1692.5 1173.8 1694.8 1173.9C1697.2 1174.1 1699.5 1174.2 1701.8 1174.3C1704.2 1174.5 1706.5 1174.6 1708.8 1174.7C1711.2 1174.9 1713.5 1175.0 1715.8 1175.1C1718.2 1175.3 1720.5 1175.4 1722.8 1175.5C1725.2 1175.6 1727.5 1175.7 1729.8 1175.9C1732.2 1176.0 1734.5 1176.1 1736.9 1176.2C1739.2 1176.3 1741.5 1176.4 1743.9 1176.5C1746.2 1176.6 1748.5 1176.7 1750.9 1176.8C1753.2 1176.9 1755.5 1177.0 1757.9 1177.1C1760.2 1177.2 1762.6 1177.2 1764.9 1177.3C1767.2 1177.4 1769.6 1177.5 1771.9 1177.5C1774.3 1177.6 1776.6 1177.7 1778.9 1177.7C1781.3 1177.8 1783.6 1177.9 1786.0 1177.9C1788.3 1178.0 1790.6 1178.0 1793.0 1178.1C1795.3 1178.1 1797.7 1178.1 1800.0 1178.2C1802.4 1178.2 1804.7 1178.2 1807.1 1178.3C1809.4 1178.3 1811.7 1178.3 1814.1 1178.3C1816.4 1178.3 1818.8 1178.3 1821.1 1178.4C1823.5 1178.4 1825.8 1178.4 1828.2 1178.3C1830.5 1178.3 1832.9 1178.3 1835.2 1178.3C1837.6 1178.3 1839.9 1178.3 1842.3 1178.2C1844.6 1178.2 1847.0 1178.2 1849.3 1178.1C1851.7 1178.1 1854.0 1178.0 1856.4 1178.0C1858.8 1177.9 1861.1 1177.9 1863.5 1177.8" stroke="#a300cc"/>
<path d="M232.7 1176.0C235.1 1176.0 237.4 1176.0 239.7 1176.0C242.1 1176.0 244.4 1176.0 246.8 1176.0C249.1 1176.1 251.4 1176.1 253.8 1176.1C256.1 1176.1 258.5 1176.1 260.8 1176.1C263.1 1176.1 265.5 1176.1 267.8 1176.1C270.2 1176.1 272.5 1176.1 274.8 1176.1C277.2 1176.2 279.5 1176.2 281.9 1176.2C284.2 1176.2 286.6 1176.2 288.9 1176.2C291.2 1176.2 293.6 1176.2 295.9 1176.2C298.3 1176.3 300.6 1176.3 303.0 1176.3C305.3 1176.3 307.6 1176.3 310.0 1176.3C312.3 1176.3 314.7 1176.3 317.0 1176.3C319.4 1176.4 321.7 1176.4 324.1 1176.4C326.4 1176.4 328.7 1176.4 331.1 1176.4C333.4 1176.4 335.8 1176.4 338.1 1176.4C340.5 1176.4 342.8 1176.4 345.2 1176.5C347.5 1176.5 349.8 1176.5 352.2 1176.5C354.5 1176.5 356.9 1176.5 359.2 1176.5C361.6 1176.5 363.9 1176.5 366.3 1176.5C368.6 1176.5 370.9 1176.5 373.3 1176.5C375.6 1176.5 378.0 1176.5 380.3 1176.5C382.7 1176.5 385.0 1176.5 387.4 1176.5C389.7 1176.5 392.1 1176.5 394.4 1176.5C396.7 1176.5 399.1 1176.5 401.4 1176.5C403.8 1176.5 406.1 1176.5 408.5 1176.4C410.8 1176.4 413.2 1176.4 415.5 1176.4C417.9 1176.4 420.2 1176.4 422.5 1176.4C424.9 1176.3 427.2 1176.3 429.6 1176.3C431.9 1176.3 434.3 1176.3 436.6 1176.2C439.0 1176.2 441.3 1176.2 443.6 1176.2C446.0 1176.1 448.3 1176.1 450.7 1176.1C453.0 1176.0 455.4 1176.0 457.7 1176.0C460.0 1175.9 462.4 1175.9 464.7 1175.9C467.1 1175.8 469.4 1175.8 471.8 1175.7C474.1 1175.7 476.5 1175.6 478.8 1175.6C481.1 1175.5 483.5 1175.5 485.8 1175.4C488.2 1175.4 490.5 1175.3 492.8 1175.3C495.2 1175.2 497.5 1175.2 499.9 1175.1C502.2 1175.0 504.6 1175.0 506.9 1174.9C509.2 1174.8 511.6 1174.7 513.9 1174.7C516.3 1174.6 518.6 1174.5 520.9 1174.4C523.3 1174.4 525.6 1174.3 528.0 1174.2C530.3 1174.1 532.6 1174.0 535.0 1173.9C537.3 1173.8 539.7 1173.7 542.0 1173.6C544.3 1173.5 546.7 1173.4 549.0 1173.3C551.3 1173.2 553.7 1173.1 556.0 1173.0C558.4 1172.9 560.7 1172.8 563.0 1172.7C565.4 1172.6 567.7 1172.5 570.0 1172.4C572.4 1172.3 574.7 1172.2 577.1 1172.1C579.4 1172.0 581.7 1171.9 584.1 1171.8C586.4 1171.6 588.7 1171.5 591.1 1171.4C593.4 1171.3 595.8 1171.2 598.1 1171.1C600.4 1171.0 602.8 1170.9 605.1 1170.8C607.4 1170.7 609.8 1170.6 612.1 1170.5C614.5 1170.4 616.8 1170.4 619.1 1170.3C621.5 1170.2 623.8 1170.1 626.2 1170.0C628.5 1169.9 630.8 1169.9 633.2 1169.8C635.5 1169.7 637.9 1169.6 640.2 1169.6C642.5 1169.5 644.9 1169.4 647.2 1169.4C649.6 1169.3 651.9 1169.3 654.2 1169.2C656.6 1169.2 658.9 1169.1 661.3 1169.1C663.6 1169.1 666.0 1169.0 668.3 1169.0C670.6 1169.0 673.0 1169.0 675.3 1169.0C677.7 1169.0 680.0 1169.0 682.4 1169.0C684.7 1169.0 687.1 1169.0 689.4 1169.0C691.8 1169.0 694.1 1169.0 696.5 1169.1C698.8 1169.1 701.2 1169.2 703.5 1169.2C705.9 1169.3 708.2 1169.3 710.6 1169.4C712.9 1169.4 715.3 1169.5 717.6 1169.6C720.0 1169.7 722.3 1169.8 724.7 1169.8C727.0 1169.9 729.4 1170.0 731.7 1170.1C734.1 1170.2 736.4 1170.3 738.8 1170.4C741.1 1170.5 743.5 1170.7 745.9 1170.8C748.2 1170.9 750.6 1171.0 752.9 1171.1C755.3 1171.2 757.6 1171.3 760.0 1171.5C762.3 1171.6 764.7 1171.7 767.0 1171.8C769.4 1171.9 771.7 1172.0 774.1 1172.2C776.4 1172.3 778.8 1172.4 781.1 1172.5C783.5 1172.6 785.8 1172.7 788.2 1172.8C790.5 1172.9 792.9 1173.0 795.2 1173.1C797.6 1173.2 799.9 1173.3 802.2 1173.4C804.6 1173.5 806.9 1173.6 809.3 1173.7C811.6 1173.8 813.9 1173.8 816.3 1173.9C818.6 1174.0 821.0 1174.0 823.3 1174.1C825.6 1174.1 828.0 1174.2 830.3 1174.2C832.6 1174.3 834.9 1174.3 837.3 1174.3C839.6 1174.3 841.9 1174.3 844.3 1174.3C846.6 1174.3 848.9 1174.3 851.2 1174.3C853.5 1174.3 855.9 1174.2 858.2 1174.2C860.5 1174.2 862.8 1174.1 865.1 1174.0C867.5 1174.0 869.8 1173.9 872.1 1173.8C874.4 1173.8 876.7 1173.7 879.0 1173.6C881.4 1173.5 883.7 1173.4 886.0 1173.3C888.3 1173.1 890.6 1173.0 893.0 1172.9C895.3 1172.8 897.6 1172.6 899.9 1172.5C902.2 1172.3 904.6 1172.2 906.9 1172.0C909.2 1171.8 911.5 1171.6 913.8 1171.5C916.2 1171.3 918.5 1171.1 920.8 1170.9C923.2 1170.7 925.5 1170.5 927.8 1170.2C930.2 1170.0 932.5 1169.8 934.8 1169.5C937.2 1169.3 939.5 1169.1 941.9 1168.8C944.2 1168.6 946.6 1168.3 948.9 1168.0C951.3 1167.8 953.6 1167.5 956.0 1167.2C958.3 1166.9 960.7 1166.6 963.1 1166.3C965.4 1166.0 967.8 1165.7 970.2 1165.4C972.6 1165.1 974.9 1164.7 977.3 1164.4C979.7 1164.1 982.1 1163.7 984.5 1163.4C986.9 1163.1 989.3 1162.7 991.7 1162.4C994.0 1162.1 996.4 1161.8 998.8 1161.5C1001.2 1161.3 1003.6 1161.0 1005.9 1160.8C1008.3 1160.6 1010.7 1160.4 1013.0 1160.3C1015.3 1160.1 1017.7 1160.0 1020.0 1160.0C1022.3 1160.0 1024.6 1160.0 1026.9 1160.1C1029.2 1160.1 1031.5 1160.3 1033.7 1160.5C1035.9 1160.7 1038.2 1161.0 1040.4 1161.3C1042.6 1161.7 1044.8 1162.2 1046.9 1162.7C1049.1 1163.2 1051.2 1163.9 1053.3 1164.6C1055.4 1165.3 1057.5 1166.1 1059.6 1166.9C1061.6 1167.8 1063.7 1168.7 1065.8 1169.7C1067.8 1170.6 1069.9 1171.6 1072.0 1172.7C1074.0 1173.8 1076.1 1174.9 1078.2 1176.0C1080.3 1177.2 1082.4 1178.4 1084.5 1179.5C1086.7 1180.7 1088.8 1181.9 1091.0 1183.2C1093.2 1184.4 1095.4 1185.6 1097.6 1186.8C1099.8 1188.1 1102.1 1189.3 1104.4 1190.5C1106.8 1191.7 1109.1 1192.9 1111.5 1194.0C1113.9 1195.1 1116.4 1196.2 1118.8 1197.1C1121.2 1198.0 1123.5 1198.8 1125.8 1199.4C1128.2 1200.0 1130.4 1200.3 1132.6 1200.4C1134.7 1200.5 1136.7 1200.3 1138.6 1199.8C1140.6 1199.3 1142.4 1198.5 1144.1 1197.5C1145.8 1196.5 1147.4 1195.2 1148.9 1193.8C1150.4 1192.4 1151.9 1190.8 1153.3 1189.0C1154.6 1187.3 1155.9 1185.4 1157.2 1183.4C1158.5 1181.5 1159.7 1179.4 1160.8 1177.3C1162.0 1175.2 1163.1 1173.0 1164.2 1170.9C1165.3 1168.7 1166.4 1166.6 1167.5 1164.4C1168.5 1162.2 1169.5 1160.1 1170.6 1157.9C1171.6 1155.7 1172.5 1153.5 1173.5 1151.3C1174.5 1149.1 1175.4 1147.0 1176.3 1144.8C1177.2 1142.6 1178.1 1140.4 1179.0 1138.2C1179.9 1136.0 1180.7 1133.7 1181.5 1131.5C1182.4 1129.3 1183.2 1127.1 1184.0 1124.9C1184.8 1122.7 1185.5 1120.4 1186.3 1118.2C1187.0 1116.0 1187.8 1113.7 1188.5 1111.5C1189.2 1109.3 1189.9 1107.0 1190.6 1104.8C1191.3 1102.5 1191.9 1100.3 1192.6 1098.0C1193.2 1095.8 1193.9 1093.5 1194.5 1091.3C1195.1 1089.0 1195.7 1086.8 1196.3 1084.5C1196.9 1082.2 1197.5 1080.0 1198.0 1077.7C1198.6 1075.4 1199.1 1073.1 1199.7 1070.9C1200.2 1068.6 1200.8 1066.3 1201.3 1064.0C1201.8 1061.8 1202.3 1059.5 1202.8 1057.2C1203.3 1054.9 1203.8 1052.6 1204.2 1050.3C1204.7 1048.0 1205.2 1045.7 1205.6 1043.5C1206.1 1041.2 1206.5 1038.9 1207.0 1036.6C1207.4 1034.3 1207.8 1032.0 1208.3 1029.7C1208.7 1027.4 1209.1 1025.1 1209.5 1022.8C1209.9 1020.5 1210.3 1018.2 1210.7 1015.9C1211.2 1013.6 1211.5 1011.2 1211.9 1008.9C1212.3 1006.6 1212.7 1004.3 1213.1 1002.0C1213.5 999.7 1213.9 997.4 1214.3 995.1C1214.6 992.8 1215.0 990.5 1215.4 988.1C1215.8 985.8 1216.1 983.5 1216.5 981.2C1216.9 978.9 1217.3 976.6 1217.6 974.3C1218.0 972.0 1218.4 969.7 1218.8 967.3C1219.1 965.0 1219.5 962.7 1219.9 960.4C1220.3 958.1 1220.7 955.8 1221.1 953.5C1221.4 951.2 1221.8 948.8 1222.2 946.5C1222.6 944.2 1223.0 941.9 1223.4 939.6C1223.8 937.3 1224.2 935.0 1224.6 932.7C1225.0 930.4 1225.4 928.1 1225.8 925.7C1226.2 923.4 1226.6 921.1 1227.0 918.8C1227.4 916.5 1227.8 914.2 1228.2 911.9C1228.6 909.6 1229.0 907.3 1229.4 905.0C1229.9 902.7 1230.3 900.4 1230.7 898.1C1231.1 895.7 1231.5 893.4 1231.9 891.1C1232.3 888.8 1232.8 886.5 1233.2 884.2C1233.6 881.9 1234.0 879.6 1234.4 877.3C1234.9 875.0 1235.3 872.7 1235.7 870.4C1236.1 868.1 1236.6 865.8 1237.0 863.5C1237.4 861.2 1237.8 858.9 1238.3 856.6C1238.7 854.3 1239.1 851.9 1239.5 849.6C1240.0 847.3 1240.4 845.0 1240.8 842.7C1241.2 840.4 1241.7 838.1 1242.1 835.8C1242.5 833.5 1243.0 831.2 1243.4 828.9C1243.8 826.6 1244.2 824.3 1244.7 822.0C1245.1 819.7 1245.5 817.4 1246.0 815.1C1246.4 812.8 1246.8 810.5 1247.2 808.2C1247.7 805.9 1248.1 803.6 1248.5 801.3C1249.0 799.0 1249.4 796.7 1249.8 794.4C1250.3 792.1 1250.7 789.7 1251.1 787.4C1251.6 785.1 1252.0 782.8 1252.4 780.5C1252.9 778.2 1253.3 775.9 1253.7 773.6C1254.2 771.3 1254.6 769.0 1255.0 766.7C1255.5 764.4 1255.9 762.1 1256.3 759.8C1256.8 757.5 1257.2 755.2 1257.6 752.9C1258.1 750.6 1258.5 748.3 1259.0 746.0C1259.4 743.7 1259.8 741.4 1260.3 739.1C1260.7 736.8 1261.2 734.5 1261.6 732.2C1262.0 729.9 1262.5 727.6 1262.9 725.3C1263.4 723.0 1263.8 720.7 1264.3 718.4C1264.7 716.1 1265.1 713.8 1265.6 711.5C1266.0 709.2 1266.5 706.9 1266.9 704.6C1267.4 702.3 1267.8 700.0 1268.3 697.7C1268.7 695.4 1269.2 693.1 1269.6 690.8C1270.1 688.5 1270.5 686.2 1271.0 683.9C1271.4 681.6 1271.9 679.3 1272.3 677.0C1272.8 674.7 1273.2 672.4 1273.7 670.1C1274.2 667.8 1274.6 665.5 1275.1 663.2C1275.5 660.9 1276.0 658.6 1276.4 656.3C1276.9 654.0 1277.4 651.7 1277.8 649.4C1278.3 647.1 1278.7 644.8 1279.2 642.5C1279.7 640.2 1280.1 637.9 1280.6 635.6C1281.1 633.3 1281.5 631.0 1282.0 628.7C1282.5 626.5 1282.9 624.2 1283.4 621.9C1283.9 619.6 1284.4 617.3 1284.8 615.0C1285.3 612.7 1285.8 610.4 1286.2 608.1C1286.7 605.8 1287.2 603.5 1287.7 601.2C1288.2 598.9 1288.6 596.6 1289.1 594.3C1289.6 592.0 1290.1 589.7 1290.6 587.4C1291.0 585.1 1291.5 582.8 1292.0 580.6C1292.5 578.3 1293.0 576.0 1293.5 573.7C1294.0 571.4 1294.5 569.1 1295.0 566.8C1295.5 564.5 1296.0 562.2 1296.5 559.9C1297.0 557.6 1297.5 555.4 1298.0 553.1C1298.5 550.8 1299.0 548.5 1299.6 546.2C1300.1 543.9 1300.6 541.6 1301.1 539.4C1301.7 537.1 1302.2 534.8 1302.7 532.5C1303.3 530.2 1303.8 528.0 1304.4 525.7C1304.9 523.4 1305.5 521.1 1306.1 518.9C1306.6 516.6 1307.2 514.3 1307.8 512.0C1308.4 509.8 1308.9 507.5 1309.5 505.2C1310.1 503.0 1310.7 500.7 1311.3 498.5C1311.9 496.2 1312.5 493.9 1313.2 491.7C1313.8 489.4 1314.4 487.2 1315.0 484.9C1315.7 482.7 1316.3 480.4 1317.0 478.2C1317.6 475.9 1318.3 473.7 1319.0 471.4C1319.7 469.2 1320.3 466.9 1321.0 464.7C1321.7 462.5 1322.4 460.2 1323.2 458.0C1323.9 455.8 1324.6 453.6 1325.4 451.3C1326.1 449.1 1326.9 446.9 1327.7 444.7C1328.5 442.5 1329.3 440.3 1330.1 438.1C1330.9 435.9 1331.8 433.7 1332.6 431.5C1333.5 429.4 1334.4 427.2 1335.3 425.0C1336.2 422.8 1337.2 420.7 1338.1 418.5C1339.1 416.4 1340.1 414.3 1341.1 412.2C1342.2 410.0 1343.3 408.0 1344.4 405.9C1345.6 403.9 1346.8 401.9 1348.2 400.0C1349.5 398.1 1350.9 396.3 1352.5 394.5C1354.0 392.7 1355.6 391.0 1357.4 389.4C1359.2 387.8 1361.1 386.3 1363.1 385.1C1365.1 383.9 1367.3 383.1 1369.6 382.7C1371.9 382.3 1374.2 382.4 1376.5 382.8C1378.7 383.3 1380.8 384.1 1382.7 385.2C1384.7 386.4 1386.5 387.8 1388.2 389.4C1389.9 391.0 1391.4 392.8 1392.9 394.7C1394.4 396.6 1395.8 398.6 1397.2 400.6C1398.5 402.6 1399.8 404.6 1401.0 406.6C1402.3 408.7 1403.4 410.7 1404.5 412.8C1405.6 414.9 1406.7 417.0 1407.7 419.1C1408.7 421.2 1409.7 423.3 1410.7 425.4C1411.6 427.6 1412.5 429.7 1413.4 431.9C1414.2 434.0 1415.1 436.2 1415.9 438.4C1416.7 440.6 1417.5 442.7 1418.3 444.9C1419.1 447.1 1419.9 449.3 1420.6 451.5C1421.4 453.7 1422.1 456.0 1422.9 458.2C1423.6 460.4 1424.3 462.6 1425.0 464.9C1425.7 467.1 1426.4 469.3 1427.1 471.6C1427.8 473.8 1428.4 476.1 1429.1 478.3C1429.7 480.6 1430.4 482.8 1431.0 485.1C1431.7 487.3 1432.3 489.6 1432.9 491.9C1433.6 494.1 1434.2 496.4 1434.8 498.6C1435.4 500.9 1436.0 503.2 1436.6 505.5C1437.2 507.7 1437.8 510.0 1438.4 512.3C1439.0 514.5 1439.5 516.8 1440.1 519.1C1440.7 521.4 1441.3 523.6 1441.8 525.9C1442.4 528.2 1443.0 530.5 1443.5 532.7C1444.1 535.0 1444.7 537.3 1445.2 539.6C1445.8 541.8 1446.3 544.1 1446.8 546.4C1447.4 548.7 1447.9 551.0 1448.5 553.2C1449.0 555.5 1449.5 557.8 1450.0 560.1C1450.6 562.4 1451.1 564.7 1451.6 567.0C1452.1 569.2 1452.6 571.5 1453.1 573.8C1453.7 576.1 1454.2 578.4 1454.7 580.7C1455.2 583.0 1455.7 585.3 1456.2 587.5C1456.7 589.8 1457.1 592.1 1457.6 594.4C1458.1 596.7 1458.6 599.0 1459.1 601.3C1459.6 603.6 1460.1 605.9 1460.5 608.2C1461.0 610.5 1461.5 612.8 1462.0 615.1C1462.4 617.3 1462.9 619.6 1463.4 621.9C1463.8 624.2 1464.3 626.5 1464.7 628.8C1465.2 631.1 1465.7 633.4 1466.1 635.7C1466.6 638.0 1467.0 640.3 1467.5 642.6C1467.9 644.9 1468.4 647.2 1468.8 649.5C1469.3 651.8 1469.7 654.1 1470.1 656.4C1470.6 658.7 1471.0 661.0 1471.5 663.3C1471.9 665.6 1472.3 667.9 1472.8 670.2C1473.2 672.5 1473.6 674.8 1474.1 677.1C1474.5 679.4 1474.9 681.7 1475.4 684.0C1475.8 686.3 1476.2 688.6 1476.7 691.0C1477.1 693.3 1477.5 695.6 1477.9 697.9C1478.4 700.2 1478.8 702.5 1479.2 704.8C1479.6 707.1 1480.0 709.4 1480.5 711.7C1480.9 714.0 1481.3 716.3 1481.7 718.6C1482.2 720.9 1482.6 723.2 1483.0 725.5C1483.4 727.8 1483.8 730.1 1484.2 732.4C1484.7 734.7 1485.1 737.1 1485.5 739.4C1485.9 741.7 1486.3 744.0 1486.8 746.3C1487.2 748.6 1487.6 750.9 1488.0 753.2C1488.4 755.5 1488.9 757.8 1489.3 760.1C1489.7 762.4 1490.1 764.7 1490.5 767.0C1490.9 769.3 1491.4 771.6 1491.8 774.0C1492.2 776.3 1492.6 778.6 1493.0 780.9C1493.4 783.2 1493.9 785.5 1494.3 787.8C1494.7 790.1 1495.1 792.4 1495.5 794.7C1495.9 797.0 1496.4 799.3 1496.8 801.6C1497.2 803.9 1497.6 806.2 1498.0 808.5C1498.4 810.9 1498.8 813.2 1499.3 815.5C1499.7 817.8 1500.1 820.1 1500.5 822.4C1500.9 824.7 1501.3 827.0 1501.7 829.3C1502.1 831.6 1502.5 833.9 1503.0 836.2C1503.4 838.5 1503.8 840.8 1504.2 843.2C1504.6 845.5 1505.0 847.8 1505.4 850.1C1505.8 852.4 1506.2 854.7 1506.6 857.0C1507.0 859.3 1507.4 861.6 1507.8 863.9C1508.2 866.2 1508.7 868.5 1509.1 870.8C1509.5 873.2 1509.9 875.5 1510.3 877.8C1510.7 880.1 1511.1 882.4 1511.5 884.7C1511.9 887.0 1512.3 889.3 1512.7 891.6C1513.1 893.9 1513.5 896.2 1513.9 898.5C1514.3 900.9 1514.7 903.2 1515.1 905.5C1515.5 907.8 1515.9 910.1 1516.3 912.4C1516.7 914.7 1517.1 917.0 1517.5 919.3C1517.9 921.6 1518.3 923.9 1518.7 926.2C1519.1 928.6 1519.5 930.9 1519.9 933.2C1520.3 935.5 1520.7 937.8 1521.1 940.1C1521.5 942.4 1521.9 944.7 1522.3 947.0C1522.7 949.3 1523.1 951.6 1523.5 953.9C1523.9 956.2 1524.3 958.6 1524.8 960.9C1525.2 963.2 1525.6 965.5 1526.0 967.8C1526.4 970.1 1526.8 972.4 1527.2 974.7C1527.7 977.0 1528.1 979.3 1528.5 981.6C1528.9 983.9 1529.3 986.2 1529.8 988.6C1530.2 990.9 1530.6 993.2 1531.0 995.5C1531.5 997.8 1531.9 1000.1 1532.3 1002.4C1532.8 1004.7 1533.2 1007.0 1533.6 1009.3C1534.1 1011.6 1534.5 1013.9 1534.9 1016.2C1535.4 1018.5 1535.8 1020.8 1536.3 1023.1C1536.7 1025.4 1537.2 1027.7 1537.6 1030.0C1538.1 1032.3 1538.5 1034.6 1539.0 1036.9C1539.5 1039.2 1539.9 1041.5 1540.4 1043.8C1540.9 1046.1 1541.3 1048.3 1541.8 1050.6C1542.3 1052.9 1542.7 1055.2 1543.2 1057.5C1543.7 1059.8 1544.2 1062.1 1544.7 1064.3C1545.2 1066.6 1545.7 1068.9 1546.2 1071.2C1546.7 1073.4 1547.2 1075.7 1547.7 1078.0C1548.2 1080.2 1548.7 1082.5 1549.2 1084.8C1549.8 1087.0 1550.3 1089.3 1550.8 1091.6C1551.4 1093.8 1551.9 1096.1 1552.5 1098.3C1553.0 1100.6 1553.6 1102.8 1554.2 1105.1C1554.8 1107.3 1555.4 1109.5 1556.1 1111.8C1556.7 1114.0 1557.4 1116.2 1558.1 1118.5C1558.8 1120.7 1559.5 1122.9 1560.2 1125.1C1561.0 1127.3 1561.8 1129.6 1562.6 1131.8C1563.4 1134.0 1564.3 1136.2 1565.2 1138.3C1566.1 1140.5 1567.1 1142.7 1568.1 1144.9C1569.1 1147.1 1570.1 1149.3 1571.2 1151.4C1572.3 1153.6 1573.5 1155.7 1574.7 1157.9C1575.9 1160.0 1577.2 1162.2 1578.5 1164.3C1579.8 1166.4 1581.2 1168.6 1582.6 1170.6C1584.1 1172.7 1585.6 1174.7 1587.2 1176.5C1588.7 1178.3 1590.4 1180.0 1592.1 1181.5C1593.8 1183.0 1595.6 1184.2 1597.4 1185.2C1599.2 1186.1 1601.1 1186.8 1603.1 1187.1C1605.0 1187.5 1607.0 1187.5 1609.1 1187.4C1611.2 1187.2 1613.3 1186.8 1615.4 1186.2C1617.6 1185.6 1619.8 1184.9 1622.0 1184.0C1624.2 1183.1 1626.4 1182.1 1628.7 1181.0C1630.9 1179.9 1633.1 1178.7 1635.4 1177.6C1637.7 1176.4 1639.9 1175.2 1642.2 1174.1C1644.4 1172.9 1646.6 1171.8 1648.8 1170.7C1651.1 1169.7 1653.3 1168.7 1655.5 1167.8C1657.7 1166.8 1659.8 1165.9 1662.0 1165.1C1664.2 1164.3 1666.4 1163.5 1668.6 1162.8C1670.7 1162.0 1672.9 1161.3 1675.1 1160.7C1677.3 1160.1 1679.5 1159.5 1681.7 1158.9C1683.9 1158.4 1686.1 1157.9 1688.3 1157.4C1690.5 1157.0 1692.8 1156.5 1695.0 1156.2C1697.3 1155.8 1699.5 1155.5 1701.8 1155.2C1704.1 1154.9 1706.4 1154.6 1708.7 1154.4C1710.9 1154.1 1713.2 1153.9 1715.6 1153.8C1717.9 1153.6 1720.2 1153.5 1722.5 1153.4C1724.8 1153.3 1727.2 1153.2 1729.5 1153.2C1731.8 1153.1 1734.2 1153.1 1736.5 1153.1C1738.9 1153.1 1741.2 1153.1 1743.6 1153.2C1746.0 1153.2 1748.3 1153.3 1750.7 1153.4C1753.1 1153.5 1755.4 1153.6 1757.8 1153.7C1760.2 1153.8 1762.6 1154.0 1765.0 1154.1C1767.3 1154.3 1769.7 1154.5 1772.1 1154.6C1774.5 1154.8 1776.9 1155.0 1779.3 1155.2C1781.6 1155.4 1784.0 1155.6 1786.4 1155.8C1788.8 1156.0 1791.2 1156.2 1793.5 1156.4C1795.9 1156.6 1798.3 1156.8 1800.7 1157.1C1803.0 1157.3 1805.4 1157.5 1807.8 1157.7C1810.1 1157.9 1812.5 1158.1 1814.9 1158.3C1817.2 1158.5 1819.6 1158.7 1821.9 1158.9C1824.3 1159.1 1826.6 1159.3 1828.9 1159.5C1831.3 1159.6 1833.6 1159.8 1835.9 1159.9C1838.2 1160.1 1840.5 1160.2 1842.8 1160.3C1845.1 1160.4 1847.4 1160.5 1849.7 1160.6C1852.0 1160.7 1854.3 1160.8 1856.5 1160.8C1858.8 1160.8 1861.0 1160.9 1863.3 1160.8" stroke="#ff0000"/>
</g>
<line x1="1046.0" y1="47.11" x2="1046.0" y2="1353.2" stroke="#000" stroke-width="4.9" stroke-dasharray="8.3 21.89" clip-path="url(#dc)"/>
<g class="tick">
<text x="236.7" y="1455.6">-80</text>
<text x="439.5" y="1455.6">-60</text>
<text x="642.4" y="1455.6">-40</text>
<text x="845.2" y="1455.6">-20</text>
<text x="1048.0" y="1455.6">0</text>
<text x="1250.9" y="1455.6">20</text>
<text x="1453.7" y="1455.6">40</text>
<text x="1656.6" y="1455.6">60</text>
<text x="1859.4" y="1455.6">80</text>
</g>
<g class="leg">
<line x1="259" y1="125.7" x2="410.2" y2="125.7" stroke="#000000"/>
<text x="428.2" y="148.2">Bentonite (BT)</text>
<line x1="259" y1="210.4" x2="410.2" y2="210.4" stroke="#ff0000"/>
<text x="428.2" y="232.8">LDH</text>
<line x1="1243" y1="125.7" x2="1393.7" y2="125.7" stroke="#0000ff"/>
<text x="1410.7" y="148.2">LDH@BT<tspan dy="7">_</tspan><tspan dy="-7">CP</tspan></text>
<line x1="1243" y1="210.4" x2="1393.7" y2="210.4" stroke="#ff00ff"/>
<text x="1410.7" y="232.8">LDH@BT<tspan dy="7">_</tspan><tspan dy="-7">ER</tspan></text>
<line x1="1243" y1="295.1" x2="1393.7" y2="295.1" stroke="#a300cc"/>
<text x="1410.7" y="317.6">LDH@BT<tspan dy="7">_</tspan><tspan dy="-7">SP</tspan></text>
</g>
<text class="axt" font-weight="normal" transform="translate(653.5,1580) scale(1.25,1.03)">ζ</text>
<text class="axt" font-weight="normal" x="709.6" y="1574.6" stroke="#000" stroke-width="1.7">–</text>
<text class="axt" style="font-size:106.3px" transform="translate(768.3,1575.8) scale(1.016,1)">potential (mV)</text>
<text class="axt" style="font-size:107.6px" transform="translate(121.3,996.8) rotate(-90)">Intensity (a.u.)</text>
</svg>
</body></html>
